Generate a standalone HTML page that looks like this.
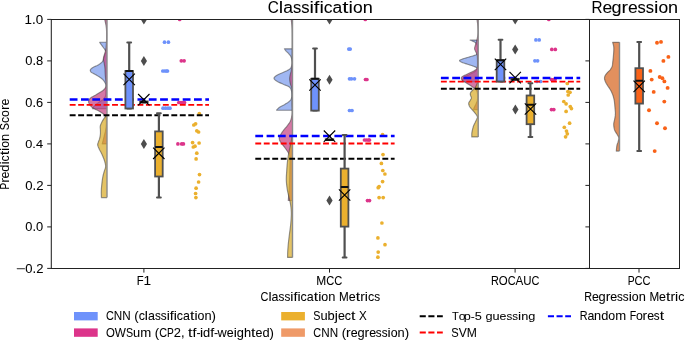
<!DOCTYPE html>
<html><head><meta charset="utf-8"><style>html,body{margin:0;padding:0;background:#fff;}body{width:685px;height:340px;overflow:hidden;font-family:"Liberation Sans",sans-serif;}svg{display:block;will-change:transform;}</style></head><body>
<svg width="685" height="340" viewBox="0 0 685 340" font-family="&quot;Liberation Sans&quot;, sans-serif" fill="#000000">
<style>text{stroke:#000;stroke-width:0.05px;}</style>
<rect width="685" height="340" fill="#fff"/>
<defs><clipPath id="ca"><rect x="51.5" y="19.4" width="538" height="249"/></clipPath><clipPath id="cb"><rect x="589.4" y="19.4" width="90" height="249"/></clipPath></defs>
<g clip-path="url(#ca)">
<path d="M107.00,42.20 L99.60,42.20 L99.79,42.49 L100.04,42.87 L100.35,43.33 L100.70,43.84 L101.09,44.41 L101.50,45.00 L101.98,45.66 L102.54,46.42 L103.14,47.22 L103.73,48.02 L104.26,48.76 L104.70,49.40 L105.06,49.90 L105.37,50.30 L105.64,50.64 L105.84,50.97 L105.96,51.34 L106.00,51.80 L105.92,52.35 L105.73,52.96 L105.46,53.61 L105.15,54.27 L104.85,54.94 L104.60,55.60 L104.40,56.25 L104.21,56.92 L104.03,57.59 L103.84,58.26 L103.64,58.90 L103.40,59.50 L103.15,60.07 L102.90,60.61 L102.63,61.12 L102.31,61.63 L101.95,62.12 L101.50,62.60 L100.96,63.08 L100.34,63.55 L99.66,64.01 L98.95,64.46 L98.22,64.89 L97.50,65.30 L96.76,65.68 L95.97,66.03 L95.16,66.37 L94.38,66.70 L93.65,67.04 L93.00,67.40 L92.42,67.78 L91.87,68.18 L91.37,68.58 L90.94,68.99 L90.61,69.40 L90.40,69.80 L90.31,70.21 L90.32,70.62 L90.43,71.04 L90.62,71.44 L90.88,71.83 L91.20,72.20 L91.59,72.53 L92.08,72.81 L92.63,73.09 L93.23,73.36 L93.86,73.66 L94.50,74.00 L95.16,74.38 L95.87,74.79 L96.61,75.22 L97.35,75.67 L98.09,76.13 L98.80,76.60 L99.50,77.07 L100.21,77.56 L100.92,78.05 L101.60,78.56 L102.23,79.07 L102.80,79.60 L103.31,80.15 L103.78,80.72 L104.20,81.30 L104.58,81.88 L104.91,82.45 L105.20,83.00 L105.44,83.50 L105.62,83.96 L105.76,84.40 L105.87,84.87 L105.94,85.39 L106.00,86.00 L106.03,86.72 L106.01,87.52 L105.97,88.38 L105.92,89.26 L105.86,90.14 L105.80,91.00 L105.77,91.85 L105.76,92.72 L105.75,93.59 L105.70,94.44 L105.60,95.25 L105.40,96.00 L105.11,96.69 L104.74,97.34 L104.31,97.95 L103.84,98.53 L103.33,99.07 L102.80,99.60 L102.24,100.09 L101.63,100.53 L100.99,100.94 L100.33,101.34 L99.66,101.76 L99.00,102.20 L98.33,102.67 L97.63,103.16 L96.92,103.65 L96.24,104.16 L95.59,104.67 L95.00,105.20 L94.46,105.78 L93.93,106.43 L93.45,107.09 L93.02,107.70 L92.67,108.23 L92.40,108.60 L107.00,108.60 Z" fill="#7798ec" fill-opacity="0.7"/>
<path d="M107.00,42.20 L99.60,42.20 L99.79,42.49 L100.04,42.87 L100.35,43.33 L100.70,43.84 L101.09,44.41 L101.50,45.00 L101.98,45.66 L102.54,46.42 L103.14,47.22 L103.73,48.02 L104.26,48.76 L104.70,49.40 L105.06,49.90 L105.37,50.30 L105.64,50.64 L105.84,50.97 L105.96,51.34 L106.00,51.80 L105.92,52.35 L105.73,52.96 L105.46,53.61 L105.15,54.27 L104.85,54.94 L104.60,55.60 L104.40,56.25 L104.21,56.92 L104.03,57.59 L103.84,58.26 L103.64,58.90 L103.40,59.50 L103.15,60.07 L102.90,60.61 L102.63,61.12 L102.31,61.63 L101.95,62.12 L101.50,62.60 L100.96,63.08 L100.34,63.55 L99.66,64.01 L98.95,64.46 L98.22,64.89 L97.50,65.30 L96.76,65.68 L95.97,66.03 L95.16,66.37 L94.38,66.70 L93.65,67.04 L93.00,67.40 L92.42,67.78 L91.87,68.18 L91.37,68.58 L90.94,68.99 L90.61,69.40 L90.40,69.80 L90.31,70.21 L90.32,70.62 L90.43,71.04 L90.62,71.44 L90.88,71.83 L91.20,72.20 L91.59,72.53 L92.08,72.81 L92.63,73.09 L93.23,73.36 L93.86,73.66 L94.50,74.00 L95.16,74.38 L95.87,74.79 L96.61,75.22 L97.35,75.67 L98.09,76.13 L98.80,76.60 L99.50,77.07 L100.21,77.56 L100.92,78.05 L101.60,78.56 L102.23,79.07 L102.80,79.60 L103.31,80.15 L103.78,80.72 L104.20,81.30 L104.58,81.88 L104.91,82.45 L105.20,83.00 L105.44,83.50 L105.62,83.96 L105.76,84.40 L105.87,84.87 L105.94,85.39 L106.00,86.00 L106.03,86.72 L106.01,87.52 L105.97,88.38 L105.92,89.26 L105.86,90.14 L105.80,91.00 L105.77,91.85 L105.76,92.72 L105.75,93.59 L105.70,94.44 L105.60,95.25 L105.40,96.00 L105.11,96.69 L104.74,97.34 L104.31,97.95 L103.84,98.53 L103.33,99.07 L102.80,99.60 L102.24,100.09 L101.63,100.53 L100.99,100.94 L100.33,101.34 L99.66,101.76 L99.00,102.20 L98.33,102.67 L97.63,103.16 L96.92,103.65 L96.24,104.16 L95.59,104.67 L95.00,105.20 L94.46,105.78 L93.93,106.43 L93.45,107.09 L93.02,107.70 L92.67,108.23 L92.40,108.60 L107.00,108.60" fill="none" stroke="#404040" stroke-opacity="0.55" stroke-width="1.15" stroke-linejoin="round"/>
<path d="M107.00,19.40 L104.70,19.40 L104.84,20.02 L105.03,20.87 L105.26,21.89 L105.50,22.97 L105.72,24.04 L105.90,25.00 L106.04,25.84 L106.16,26.64 L106.27,27.41 L106.36,28.21 L106.44,29.06 L106.50,30.00 L106.55,31.04 L106.59,32.15 L106.61,33.31 L106.61,34.52 L106.61,35.75 L106.60,37.00 L106.58,38.30 L106.55,39.67 L106.51,41.06 L106.46,42.44 L106.39,43.77 L106.30,45.00 L106.19,46.12 L106.07,47.17 L105.93,48.16 L105.77,49.11 L105.60,50.05 L105.40,51.00 L105.16,51.97 L104.87,52.96 L104.57,53.94 L104.27,54.87 L104.01,55.73 L103.80,56.50 L103.65,57.13 L103.53,57.65 L103.45,58.09 L103.40,58.52 L103.38,58.97 L103.40,59.50 L103.47,60.10 L103.58,60.74 L103.73,61.41 L103.90,62.09 L104.06,62.79 L104.20,63.50 L104.33,64.20 L104.46,64.91 L104.58,65.62 L104.70,66.37 L104.81,67.16 L104.90,68.00 L104.97,68.91 L105.02,69.89 L105.06,70.91 L105.10,71.94 L105.14,72.98 L105.20,74.00 L105.27,75.00 L105.36,76.01 L105.44,77.02 L105.53,78.03 L105.62,79.02 L105.70,80.00 L105.81,80.97 L105.95,81.94 L106.09,82.90 L106.19,83.84 L106.21,84.74 L106.10,85.60 L105.89,86.40 L105.62,87.15 L105.26,87.87 L104.80,88.57 L104.22,89.27 L103.50,90.00 L102.58,90.75 L101.46,91.52 L100.22,92.29 L98.94,93.06 L97.67,93.80 L96.50,94.50 L95.37,95.17 L94.21,95.80 L93.07,96.42 L92.00,97.02 L91.06,97.61 L90.30,98.20 L89.73,98.79 L89.30,99.37 L89.00,99.95 L88.80,100.51 L88.67,101.07 L88.60,101.60 L88.60,102.12 L88.70,102.63 L88.88,103.12 L89.10,103.60 L89.35,104.06 L89.60,104.50 L89.85,104.92 L90.13,105.32 L90.42,105.71 L90.75,106.08 L91.11,106.44 L91.50,106.80 L91.91,107.14 L92.34,107.46 L92.79,107.78 L93.30,108.09 L93.86,108.43 L94.50,108.80 L95.25,109.21 L96.10,109.64 L97.02,110.09 L97.95,110.55 L98.86,111.02 L99.70,111.50 L100.50,111.98 L101.29,112.46 L102.05,112.95 L102.77,113.45 L103.43,113.97 L104.00,114.50 L104.49,115.03 L104.90,115.54 L105.25,116.06 L105.54,116.63 L105.79,117.27 L106.00,118.00 L106.16,118.86 L106.26,119.81 L106.32,120.84 L106.34,121.91 L106.33,122.97 L106.30,124.00 L106.25,125.00 L106.17,126.00 L106.06,127.00 L105.92,128.00 L105.77,129.00 L105.60,130.00 L105.41,130.98 L105.21,131.93 L104.98,132.88 L104.74,133.86 L104.48,134.89 L104.20,136.00 L103.88,137.30 L103.50,138.79 L103.11,140.32 L102.74,141.78 L102.42,143.02 L102.20,143.90 L107.00,143.90 Z" fill="#c53d7f" fill-opacity="0.7"/>
<path d="M107.00,19.40 L104.70,19.40 L104.84,20.02 L105.03,20.87 L105.26,21.89 L105.50,22.97 L105.72,24.04 L105.90,25.00 L106.04,25.84 L106.16,26.64 L106.27,27.41 L106.36,28.21 L106.44,29.06 L106.50,30.00 L106.55,31.04 L106.59,32.15 L106.61,33.31 L106.61,34.52 L106.61,35.75 L106.60,37.00 L106.58,38.30 L106.55,39.67 L106.51,41.06 L106.46,42.44 L106.39,43.77 L106.30,45.00 L106.19,46.12 L106.07,47.17 L105.93,48.16 L105.77,49.11 L105.60,50.05 L105.40,51.00 L105.16,51.97 L104.87,52.96 L104.57,53.94 L104.27,54.87 L104.01,55.73 L103.80,56.50 L103.65,57.13 L103.53,57.65 L103.45,58.09 L103.40,58.52 L103.38,58.97 L103.40,59.50 L103.47,60.10 L103.58,60.74 L103.73,61.41 L103.90,62.09 L104.06,62.79 L104.20,63.50 L104.33,64.20 L104.46,64.91 L104.58,65.62 L104.70,66.37 L104.81,67.16 L104.90,68.00 L104.97,68.91 L105.02,69.89 L105.06,70.91 L105.10,71.94 L105.14,72.98 L105.20,74.00 L105.27,75.00 L105.36,76.01 L105.44,77.02 L105.53,78.03 L105.62,79.02 L105.70,80.00 L105.81,80.97 L105.95,81.94 L106.09,82.90 L106.19,83.84 L106.21,84.74 L106.10,85.60 L105.89,86.40 L105.62,87.15 L105.26,87.87 L104.80,88.57 L104.22,89.27 L103.50,90.00 L102.58,90.75 L101.46,91.52 L100.22,92.29 L98.94,93.06 L97.67,93.80 L96.50,94.50 L95.37,95.17 L94.21,95.80 L93.07,96.42 L92.00,97.02 L91.06,97.61 L90.30,98.20 L89.73,98.79 L89.30,99.37 L89.00,99.95 L88.80,100.51 L88.67,101.07 L88.60,101.60 L88.60,102.12 L88.70,102.63 L88.88,103.12 L89.10,103.60 L89.35,104.06 L89.60,104.50 L89.85,104.92 L90.13,105.32 L90.42,105.71 L90.75,106.08 L91.11,106.44 L91.50,106.80 L91.91,107.14 L92.34,107.46 L92.79,107.78 L93.30,108.09 L93.86,108.43 L94.50,108.80 L95.25,109.21 L96.10,109.64 L97.02,110.09 L97.95,110.55 L98.86,111.02 L99.70,111.50 L100.50,111.98 L101.29,112.46 L102.05,112.95 L102.77,113.45 L103.43,113.97 L104.00,114.50 L104.49,115.03 L104.90,115.54 L105.25,116.06 L105.54,116.63 L105.79,117.27 L106.00,118.00 L106.16,118.86 L106.26,119.81 L106.32,120.84 L106.34,121.91 L106.33,122.97 L106.30,124.00 L106.25,125.00 L106.17,126.00 L106.06,127.00 L105.92,128.00 L105.77,129.00 L105.60,130.00 L105.41,130.98 L105.21,131.93 L104.98,132.88 L104.74,133.86 L104.48,134.89 L104.20,136.00 L103.88,137.30 L103.50,138.79 L103.11,140.32 L102.74,141.78 L102.42,143.02 L102.20,143.90 L107.00,143.90" fill="none" stroke="#404040" stroke-opacity="0.55" stroke-width="1.15" stroke-linejoin="round"/>
<path d="M107.00,114.90 L106.60,114.90 L106.31,115.30 L105.90,115.84 L105.42,116.49 L104.92,117.19 L104.43,117.88 L104.00,118.50 L103.63,119.06 L103.28,119.59 L102.94,120.11 L102.62,120.64 L102.31,121.20 L102.00,121.80 L101.68,122.45 L101.34,123.14 L101.02,123.86 L100.72,124.58 L100.48,125.30 L100.30,126.00 L100.21,126.68 L100.20,127.35 L100.24,128.01 L100.31,128.67 L100.37,129.34 L100.40,130.00 L100.42,130.66 L100.44,131.31 L100.46,131.97 L100.46,132.63 L100.45,133.30 L100.40,134.00 L100.32,134.73 L100.21,135.48 L100.09,136.25 L99.94,137.02 L99.78,137.77 L99.60,138.50 L99.39,139.21 L99.14,139.93 L98.88,140.62 L98.62,141.30 L98.39,141.93 L98.20,142.50 L98.04,142.99 L97.89,143.39 L97.77,143.75 L97.69,144.11 L97.66,144.51 L97.70,145.00 L97.83,145.58 L98.03,146.22 L98.29,146.91 L98.58,147.61 L98.89,148.32 L99.20,149.00 L99.51,149.66 L99.85,150.30 L100.21,150.94 L100.57,151.59 L100.94,152.28 L101.30,153.00 L101.67,153.78 L102.05,154.61 L102.44,155.47 L102.81,156.33 L103.17,157.18 L103.50,158.00 L103.80,158.78 L104.09,159.54 L104.35,160.29 L104.59,161.03 L104.81,161.77 L105.00,162.50 L105.18,163.22 L105.34,163.93 L105.48,164.64 L105.58,165.34 L105.63,166.06 L105.60,166.80 L105.48,167.55 L105.28,168.31 L105.02,169.08 L104.74,169.86 L104.46,170.67 L104.20,171.50 L103.96,172.35 L103.72,173.20 L103.48,174.08 L103.24,175.00 L103.01,175.96 L102.80,177.00 L102.60,178.13 L102.42,179.36 L102.24,180.63 L102.08,181.92 L101.93,183.19 L101.80,184.40 L101.68,185.55 L101.57,186.66 L101.48,187.75 L101.40,188.83 L101.34,189.91 L101.30,191.00 L101.28,192.18 L101.29,193.44 L101.32,194.71 L101.35,195.89 L101.38,196.88 L101.40,197.60 L107.00,197.60 Z" fill="#d8a924" fill-opacity="0.7"/>
<path d="M107.00,114.90 L106.60,114.90 L106.31,115.30 L105.90,115.84 L105.42,116.49 L104.92,117.19 L104.43,117.88 L104.00,118.50 L103.63,119.06 L103.28,119.59 L102.94,120.11 L102.62,120.64 L102.31,121.20 L102.00,121.80 L101.68,122.45 L101.34,123.14 L101.02,123.86 L100.72,124.58 L100.48,125.30 L100.30,126.00 L100.21,126.68 L100.20,127.35 L100.24,128.01 L100.31,128.67 L100.37,129.34 L100.40,130.00 L100.42,130.66 L100.44,131.31 L100.46,131.97 L100.46,132.63 L100.45,133.30 L100.40,134.00 L100.32,134.73 L100.21,135.48 L100.09,136.25 L99.94,137.02 L99.78,137.77 L99.60,138.50 L99.39,139.21 L99.14,139.93 L98.88,140.62 L98.62,141.30 L98.39,141.93 L98.20,142.50 L98.04,142.99 L97.89,143.39 L97.77,143.75 L97.69,144.11 L97.66,144.51 L97.70,145.00 L97.83,145.58 L98.03,146.22 L98.29,146.91 L98.58,147.61 L98.89,148.32 L99.20,149.00 L99.51,149.66 L99.85,150.30 L100.21,150.94 L100.57,151.59 L100.94,152.28 L101.30,153.00 L101.67,153.78 L102.05,154.61 L102.44,155.47 L102.81,156.33 L103.17,157.18 L103.50,158.00 L103.80,158.78 L104.09,159.54 L104.35,160.29 L104.59,161.03 L104.81,161.77 L105.00,162.50 L105.18,163.22 L105.34,163.93 L105.48,164.64 L105.58,165.34 L105.63,166.06 L105.60,166.80 L105.48,167.55 L105.28,168.31 L105.02,169.08 L104.74,169.86 L104.46,170.67 L104.20,171.50 L103.96,172.35 L103.72,173.20 L103.48,174.08 L103.24,175.00 L103.01,175.96 L102.80,177.00 L102.60,178.13 L102.42,179.36 L102.24,180.63 L102.08,181.92 L101.93,183.19 L101.80,184.40 L101.68,185.55 L101.57,186.66 L101.48,187.75 L101.40,188.83 L101.34,189.91 L101.30,191.00 L101.28,192.18 L101.29,193.44 L101.32,194.71 L101.35,195.89 L101.38,196.88 L101.40,197.60 L107.00,197.60" fill="none" stroke="#404040" stroke-opacity="0.55" stroke-width="1.15" stroke-linejoin="round"/>
<line x1="107.0" y1="19.4" x2="107.0" y2="197.60" stroke="#8a8a8a" stroke-width="1.4"/>
<path d="M292.50,48.80 L284.40,48.80 L284.57,49.04 L284.79,49.37 L285.06,49.77 L285.36,50.19 L285.68,50.61 L286.00,51.00 L286.33,51.34 L286.68,51.67 L287.04,51.99 L287.42,52.33 L287.81,52.69 L288.20,53.10 L288.61,53.55 L289.06,54.02 L289.51,54.53 L289.95,55.06 L290.36,55.61 L290.70,56.20 L290.99,56.82 L291.24,57.47 L291.46,58.15 L291.64,58.85 L291.78,59.57 L291.90,60.30 L291.99,61.06 L292.07,61.85 L292.11,62.66 L292.10,63.46 L292.04,64.25 L291.90,65.00 L291.72,65.72 L291.51,66.41 L291.24,67.09 L290.89,67.75 L290.42,68.39 L289.80,69.00 L289.00,69.58 L288.02,70.13 L286.93,70.66 L285.77,71.18 L284.61,71.69 L283.50,72.20 L282.39,72.71 L281.22,73.21 L280.04,73.70 L278.91,74.19 L277.88,74.69 L277.00,75.20 L276.22,75.72 L275.50,76.26 L274.88,76.80 L274.40,77.34 L274.09,77.88 L274.00,78.40 L274.17,78.91 L274.57,79.42 L275.14,79.92 L275.84,80.41 L276.61,80.91 L277.40,81.40 L278.24,81.89 L279.19,82.39 L280.21,82.88 L281.26,83.37 L282.30,83.84 L283.30,84.30 L284.30,84.73 L285.34,85.13 L286.38,85.52 L287.36,85.91 L288.25,86.34 L289.00,86.80 L289.60,87.28 L290.09,87.76 L290.48,88.27 L290.79,88.83 L291.06,89.46 L291.30,90.20 L291.51,91.10 L291.68,92.14 L291.79,93.26 L291.86,94.39 L291.86,95.46 L291.80,96.40 L291.69,97.21 L291.54,97.94 L291.34,98.61 L291.06,99.25 L290.68,99.87 L290.20,100.50 L289.58,101.13 L288.84,101.76 L288.01,102.36 L287.11,102.96 L286.20,103.53 L285.30,104.10 L284.37,104.65 L283.36,105.17 L282.34,105.69 L281.34,106.19 L280.41,106.69 L279.60,107.20 L278.90,107.74 L278.26,108.32 L277.69,108.89 L277.21,109.43 L276.81,109.87 L276.50,110.20 L292.50,110.20 Z" fill="#7798ec" fill-opacity="0.7"/>
<path d="M292.50,48.80 L284.40,48.80 L284.57,49.04 L284.79,49.37 L285.06,49.77 L285.36,50.19 L285.68,50.61 L286.00,51.00 L286.33,51.34 L286.68,51.67 L287.04,51.99 L287.42,52.33 L287.81,52.69 L288.20,53.10 L288.61,53.55 L289.06,54.02 L289.51,54.53 L289.95,55.06 L290.36,55.61 L290.70,56.20 L290.99,56.82 L291.24,57.47 L291.46,58.15 L291.64,58.85 L291.78,59.57 L291.90,60.30 L291.99,61.06 L292.07,61.85 L292.11,62.66 L292.10,63.46 L292.04,64.25 L291.90,65.00 L291.72,65.72 L291.51,66.41 L291.24,67.09 L290.89,67.75 L290.42,68.39 L289.80,69.00 L289.00,69.58 L288.02,70.13 L286.93,70.66 L285.77,71.18 L284.61,71.69 L283.50,72.20 L282.39,72.71 L281.22,73.21 L280.04,73.70 L278.91,74.19 L277.88,74.69 L277.00,75.20 L276.22,75.72 L275.50,76.26 L274.88,76.80 L274.40,77.34 L274.09,77.88 L274.00,78.40 L274.17,78.91 L274.57,79.42 L275.14,79.92 L275.84,80.41 L276.61,80.91 L277.40,81.40 L278.24,81.89 L279.19,82.39 L280.21,82.88 L281.26,83.37 L282.30,83.84 L283.30,84.30 L284.30,84.73 L285.34,85.13 L286.38,85.52 L287.36,85.91 L288.25,86.34 L289.00,86.80 L289.60,87.28 L290.09,87.76 L290.48,88.27 L290.79,88.83 L291.06,89.46 L291.30,90.20 L291.51,91.10 L291.68,92.14 L291.79,93.26 L291.86,94.39 L291.86,95.46 L291.80,96.40 L291.69,97.21 L291.54,97.94 L291.34,98.61 L291.06,99.25 L290.68,99.87 L290.20,100.50 L289.58,101.13 L288.84,101.76 L288.01,102.36 L287.11,102.96 L286.20,103.53 L285.30,104.10 L284.37,104.65 L283.36,105.17 L282.34,105.69 L281.34,106.19 L280.41,106.69 L279.60,107.20 L278.90,107.74 L278.26,108.32 L277.69,108.89 L277.21,109.43 L276.81,109.87 L276.50,110.20 L292.50,110.20" fill="none" stroke="#404040" stroke-opacity="0.55" stroke-width="1.15" stroke-linejoin="round"/>
<path d="M292.50,19.40 L291.20,19.40 L291.28,20.16 L291.40,21.17 L291.54,22.39 L291.68,23.79 L291.80,25.33 L291.90,27.00 L291.97,28.80 L292.01,30.75 L292.05,32.85 L292.07,35.10 L292.09,37.48 L292.10,40.00 L292.10,42.80 L292.10,45.92 L292.08,49.18 L292.06,52.39 L292.03,55.39 L292.00,58.00 L291.98,60.16 L291.98,62.01 L291.97,63.64 L291.93,65.15 L291.85,66.64 L291.70,68.20 L291.43,69.85 L291.06,71.50 L290.64,73.14 L290.23,74.72 L289.90,76.22 L289.70,77.60 L289.65,78.85 L289.70,79.99 L289.83,81.05 L290.01,82.05 L290.21,83.03 L290.40,84.00 L290.62,84.85 L290.90,85.53 L291.19,86.19 L291.48,86.96 L291.73,87.98 L291.90,89.40 L291.99,91.35 L292.01,93.76 L291.99,96.41 L291.95,99.13 L291.91,101.73 L291.90,104.00 L291.93,105.97 L291.98,107.80 L292.04,109.51 L292.07,111.10 L292.07,112.59 L292.00,114.00 L291.87,115.30 L291.71,116.48 L291.50,117.56 L291.25,118.57 L290.95,119.54 L290.60,120.50 L290.20,121.41 L289.74,122.26 L289.24,123.06 L288.70,123.85 L288.12,124.66 L287.50,125.50 L286.82,126.39 L286.06,127.30 L285.26,128.22 L284.46,129.15 L283.69,130.08 L283.00,131.00 L282.36,131.94 L281.73,132.91 L281.14,133.88 L280.60,134.81 L280.15,135.70 L279.80,136.50 L279.55,137.20 L279.39,137.80 L279.30,138.36 L279.29,138.89 L279.36,139.42 L279.50,140.00 L279.72,140.59 L280.03,141.17 L280.41,141.75 L280.85,142.37 L281.35,143.04 L281.90,143.80 L282.54,144.68 L283.28,145.67 L284.08,146.71 L284.89,147.77 L285.64,148.78 L286.30,149.70 L286.87,150.52 L287.39,151.28 L287.87,151.99 L288.30,152.69 L288.67,153.38 L289.00,154.10 L289.27,154.75 L289.47,155.30 L289.62,155.86 L289.74,156.51 L289.83,157.36 L289.90,158.50 L289.94,159.97 L289.95,161.68 L289.93,163.59 L289.89,165.64 L289.85,167.80 L289.80,170.00 L289.75,172.37 L289.70,174.96 L289.63,177.66 L289.56,180.31 L289.48,182.81 L289.40,185.00 L289.31,186.88 L289.21,188.54 L289.11,190.03 L289.00,191.41 L288.90,192.71 L288.80,194.00 L288.71,195.30 L288.61,196.59 L288.51,197.81 L288.43,198.91 L288.35,199.82 L288.30,200.50 L292.50,200.50 Z" fill="#c53d7f" fill-opacity="0.7"/>
<path d="M292.50,19.40 L291.20,19.40 L291.28,20.16 L291.40,21.17 L291.54,22.39 L291.68,23.79 L291.80,25.33 L291.90,27.00 L291.97,28.80 L292.01,30.75 L292.05,32.85 L292.07,35.10 L292.09,37.48 L292.10,40.00 L292.10,42.80 L292.10,45.92 L292.08,49.18 L292.06,52.39 L292.03,55.39 L292.00,58.00 L291.98,60.16 L291.98,62.01 L291.97,63.64 L291.93,65.15 L291.85,66.64 L291.70,68.20 L291.43,69.85 L291.06,71.50 L290.64,73.14 L290.23,74.72 L289.90,76.22 L289.70,77.60 L289.65,78.85 L289.70,79.99 L289.83,81.05 L290.01,82.05 L290.21,83.03 L290.40,84.00 L290.62,84.85 L290.90,85.53 L291.19,86.19 L291.48,86.96 L291.73,87.98 L291.90,89.40 L291.99,91.35 L292.01,93.76 L291.99,96.41 L291.95,99.13 L291.91,101.73 L291.90,104.00 L291.93,105.97 L291.98,107.80 L292.04,109.51 L292.07,111.10 L292.07,112.59 L292.00,114.00 L291.87,115.30 L291.71,116.48 L291.50,117.56 L291.25,118.57 L290.95,119.54 L290.60,120.50 L290.20,121.41 L289.74,122.26 L289.24,123.06 L288.70,123.85 L288.12,124.66 L287.50,125.50 L286.82,126.39 L286.06,127.30 L285.26,128.22 L284.46,129.15 L283.69,130.08 L283.00,131.00 L282.36,131.94 L281.73,132.91 L281.14,133.88 L280.60,134.81 L280.15,135.70 L279.80,136.50 L279.55,137.20 L279.39,137.80 L279.30,138.36 L279.29,138.89 L279.36,139.42 L279.50,140.00 L279.72,140.59 L280.03,141.17 L280.41,141.75 L280.85,142.37 L281.35,143.04 L281.90,143.80 L282.54,144.68 L283.28,145.67 L284.08,146.71 L284.89,147.77 L285.64,148.78 L286.30,149.70 L286.87,150.52 L287.39,151.28 L287.87,151.99 L288.30,152.69 L288.67,153.38 L289.00,154.10 L289.27,154.75 L289.47,155.30 L289.62,155.86 L289.74,156.51 L289.83,157.36 L289.90,158.50 L289.94,159.97 L289.95,161.68 L289.93,163.59 L289.89,165.64 L289.85,167.80 L289.80,170.00 L289.75,172.37 L289.70,174.96 L289.63,177.66 L289.56,180.31 L289.48,182.81 L289.40,185.00 L289.31,186.88 L289.21,188.54 L289.11,190.03 L289.00,191.41 L288.90,192.71 L288.80,194.00 L288.71,195.30 L288.61,196.59 L288.51,197.81 L288.43,198.91 L288.35,199.82 L288.30,200.50 L292.50,200.50" fill="none" stroke="#404040" stroke-opacity="0.55" stroke-width="1.15" stroke-linejoin="round"/>
<path d="M292.50,135.00 L292.20,135.00 L292.11,135.64 L291.99,136.52 L291.84,137.56 L291.68,138.70 L291.50,139.87 L291.30,141.00 L291.08,142.11 L290.84,143.26 L290.58,144.44 L290.31,145.63 L290.05,146.82 L289.80,148.00 L289.56,149.16 L289.31,150.30 L289.07,151.44 L288.84,152.59 L288.61,153.78 L288.40,155.00 L288.19,156.28 L287.99,157.59 L287.80,158.94 L287.62,160.30 L287.45,161.66 L287.30,163.00 L287.17,164.32 L287.06,165.63 L286.96,166.94 L286.87,168.26 L286.78,169.61 L286.70,171.00 L286.61,172.44 L286.50,173.93 L286.41,175.44 L286.33,176.96 L286.29,178.49 L286.30,180.00 L286.37,181.52 L286.48,183.06 L286.63,184.59 L286.80,186.11 L286.99,187.59 L287.20,189.00 L287.43,190.35 L287.69,191.65 L287.96,192.91 L288.25,194.13 L288.53,195.33 L288.80,196.50 L289.06,197.65 L289.33,198.76 L289.60,199.84 L289.86,200.91 L290.09,201.96 L290.30,203.00 L290.48,204.03 L290.64,205.04 L290.78,206.03 L290.90,207.02 L291.01,208.01 L291.10,209.00 L291.18,209.95 L291.24,210.85 L291.29,211.75 L291.32,212.70 L291.33,213.77 L291.30,215.00 L291.24,216.42 L291.16,218.00 L291.05,219.69 L290.92,221.44 L290.77,223.23 L290.60,225.00 L290.40,226.80 L290.17,228.67 L289.92,230.56 L289.66,232.44 L289.42,234.27 L289.20,236.00 L289.00,237.64 L288.82,239.22 L288.64,240.75 L288.48,242.22 L288.33,243.64 L288.20,245.00 L288.08,246.30 L287.98,247.54 L287.89,248.72 L287.82,249.86 L287.75,250.95 L287.70,252.00 L287.66,253.06 L287.63,254.12 L287.62,255.14 L287.61,256.06 L287.61,256.83 L287.60,257.40 L292.50,257.40 Z" fill="#d8a924" fill-opacity="0.7"/>
<path d="M292.50,135.00 L292.20,135.00 L292.11,135.64 L291.99,136.52 L291.84,137.56 L291.68,138.70 L291.50,139.87 L291.30,141.00 L291.08,142.11 L290.84,143.26 L290.58,144.44 L290.31,145.63 L290.05,146.82 L289.80,148.00 L289.56,149.16 L289.31,150.30 L289.07,151.44 L288.84,152.59 L288.61,153.78 L288.40,155.00 L288.19,156.28 L287.99,157.59 L287.80,158.94 L287.62,160.30 L287.45,161.66 L287.30,163.00 L287.17,164.32 L287.06,165.63 L286.96,166.94 L286.87,168.26 L286.78,169.61 L286.70,171.00 L286.61,172.44 L286.50,173.93 L286.41,175.44 L286.33,176.96 L286.29,178.49 L286.30,180.00 L286.37,181.52 L286.48,183.06 L286.63,184.59 L286.80,186.11 L286.99,187.59 L287.20,189.00 L287.43,190.35 L287.69,191.65 L287.96,192.91 L288.25,194.13 L288.53,195.33 L288.80,196.50 L289.06,197.65 L289.33,198.76 L289.60,199.84 L289.86,200.91 L290.09,201.96 L290.30,203.00 L290.48,204.03 L290.64,205.04 L290.78,206.03 L290.90,207.02 L291.01,208.01 L291.10,209.00 L291.18,209.95 L291.24,210.85 L291.29,211.75 L291.32,212.70 L291.33,213.77 L291.30,215.00 L291.24,216.42 L291.16,218.00 L291.05,219.69 L290.92,221.44 L290.77,223.23 L290.60,225.00 L290.40,226.80 L290.17,228.67 L289.92,230.56 L289.66,232.44 L289.42,234.27 L289.20,236.00 L289.00,237.64 L288.82,239.22 L288.64,240.75 L288.48,242.22 L288.33,243.64 L288.20,245.00 L288.08,246.30 L287.98,247.54 L287.89,248.72 L287.82,249.86 L287.75,250.95 L287.70,252.00 L287.66,253.06 L287.63,254.12 L287.62,255.14 L287.61,256.06 L287.61,256.83 L287.60,257.40 L292.50,257.40" fill="none" stroke="#404040" stroke-opacity="0.55" stroke-width="1.15" stroke-linejoin="round"/>
<line x1="292.5" y1="19.4" x2="292.5" y2="257.40" stroke="#8a8a8a" stroke-width="1.4"/>
<path d="M478.20,40.10 L470.10,40.10 L470.54,40.28 L471.17,40.53 L471.91,40.83 L472.67,41.16 L473.40,41.49 L474.00,41.80 L474.49,42.09 L474.94,42.37 L475.34,42.65 L475.70,42.96 L476.02,43.30 L476.30,43.70 L476.54,44.16 L476.73,44.65 L476.89,45.19 L477.01,45.76 L477.11,46.36 L477.20,47.00 L477.27,47.70 L477.31,48.49 L477.34,49.30 L477.34,50.10 L477.33,50.85 L477.30,51.50 L477.27,52.05 L477.24,52.52 L477.20,52.94 L477.12,53.32 L476.99,53.67 L476.80,54.00 L476.56,54.29 L476.30,54.53 L475.99,54.74 L475.61,54.94 L475.12,55.16 L474.50,55.40 L473.72,55.67 L472.79,55.96 L471.76,56.26 L470.67,56.57 L469.57,56.88 L468.50,57.20 L467.40,57.53 L466.22,57.87 L465.03,58.23 L463.89,58.57 L462.86,58.90 L462.00,59.20 L461.29,59.46 L460.69,59.70 L460.19,59.91 L459.81,60.13 L459.58,60.35 L459.50,60.60 L459.59,60.88 L459.85,61.17 L460.25,61.48 L460.76,61.79 L461.35,62.10 L462.00,62.40 L462.74,62.70 L463.59,62.99 L464.53,63.29 L465.52,63.59 L466.52,63.89 L467.50,64.20 L468.50,64.52 L469.54,64.84 L470.61,65.18 L471.64,65.51 L472.62,65.85 L473.50,66.20 L474.33,66.54 L475.16,66.89 L475.92,67.23 L476.57,67.59 L477.05,67.98 L477.30,68.40 L477.31,68.87 L477.10,69.37 L476.73,69.90 L476.23,70.44 L475.64,70.98 L475.00,71.50 L474.26,72.01 L473.39,72.53 L472.42,73.04 L471.41,73.54 L470.42,74.03 L469.50,74.50 L468.60,74.95 L467.69,75.37 L466.78,75.78 L465.93,76.19 L465.15,76.59 L464.50,77.00 L463.97,77.42 L463.53,77.85 L463.17,78.27 L462.89,78.70 L462.67,79.11 L462.50,79.50 L462.42,79.90 L462.44,80.31 L462.52,80.71 L462.64,81.07 L462.74,81.38 L462.80,81.60 L478.20,81.60 Z" fill="#7798ec" fill-opacity="0.7"/>
<path d="M478.20,40.10 L470.10,40.10 L470.54,40.28 L471.17,40.53 L471.91,40.83 L472.67,41.16 L473.40,41.49 L474.00,41.80 L474.49,42.09 L474.94,42.37 L475.34,42.65 L475.70,42.96 L476.02,43.30 L476.30,43.70 L476.54,44.16 L476.73,44.65 L476.89,45.19 L477.01,45.76 L477.11,46.36 L477.20,47.00 L477.27,47.70 L477.31,48.49 L477.34,49.30 L477.34,50.10 L477.33,50.85 L477.30,51.50 L477.27,52.05 L477.24,52.52 L477.20,52.94 L477.12,53.32 L476.99,53.67 L476.80,54.00 L476.56,54.29 L476.30,54.53 L475.99,54.74 L475.61,54.94 L475.12,55.16 L474.50,55.40 L473.72,55.67 L472.79,55.96 L471.76,56.26 L470.67,56.57 L469.57,56.88 L468.50,57.20 L467.40,57.53 L466.22,57.87 L465.03,58.23 L463.89,58.57 L462.86,58.90 L462.00,59.20 L461.29,59.46 L460.69,59.70 L460.19,59.91 L459.81,60.13 L459.58,60.35 L459.50,60.60 L459.59,60.88 L459.85,61.17 L460.25,61.48 L460.76,61.79 L461.35,62.10 L462.00,62.40 L462.74,62.70 L463.59,62.99 L464.53,63.29 L465.52,63.59 L466.52,63.89 L467.50,64.20 L468.50,64.52 L469.54,64.84 L470.61,65.18 L471.64,65.51 L472.62,65.85 L473.50,66.20 L474.33,66.54 L475.16,66.89 L475.92,67.23 L476.57,67.59 L477.05,67.98 L477.30,68.40 L477.31,68.87 L477.10,69.37 L476.73,69.90 L476.23,70.44 L475.64,70.98 L475.00,71.50 L474.26,72.01 L473.39,72.53 L472.42,73.04 L471.41,73.54 L470.42,74.03 L469.50,74.50 L468.60,74.95 L467.69,75.37 L466.78,75.78 L465.93,76.19 L465.15,76.59 L464.50,77.00 L463.97,77.42 L463.53,77.85 L463.17,78.27 L462.89,78.70 L462.67,79.11 L462.50,79.50 L462.42,79.90 L462.44,80.31 L462.52,80.71 L462.64,81.07 L462.74,81.38 L462.80,81.60 L478.20,81.60" fill="none" stroke="#404040" stroke-opacity="0.55" stroke-width="1.15" stroke-linejoin="round"/>
<path d="M478.20,19.40 L477.00,19.40 L477.10,20.10 L477.23,21.06 L477.39,22.20 L477.56,23.45 L477.70,24.74 L477.80,26.00 L477.87,27.28 L477.92,28.66 L477.96,30.07 L477.97,31.47 L477.95,32.80 L477.90,34.00 L477.81,35.07 L477.69,36.04 L477.54,36.94 L477.37,37.80 L477.19,38.64 L477.00,39.50 L476.79,40.37 L476.56,41.24 L476.31,42.09 L476.06,42.92 L475.82,43.72 L475.60,44.50 L475.38,45.24 L475.15,45.96 L474.93,46.65 L474.75,47.32 L474.63,47.97 L474.60,48.60 L474.68,49.21 L474.86,49.78 L475.11,50.34 L475.38,50.89 L475.66,51.44 L475.90,52.00 L476.13,52.55 L476.37,53.09 L476.61,53.62 L476.84,54.18 L477.04,54.80 L477.20,55.50 L477.31,56.29 L477.40,57.15 L477.45,58.06 L477.48,59.02 L477.50,60.00 L477.50,61.00 L477.51,62.07 L477.53,63.22 L477.54,64.41 L477.50,65.56 L477.40,66.61 L477.20,67.50 L476.93,68.20 L476.60,68.76 L476.21,69.22 L475.73,69.63 L475.17,70.04 L474.50,70.50 L473.69,71.00 L472.73,71.51 L471.68,72.02 L470.59,72.52 L469.51,73.02 L468.50,73.50 L467.51,73.98 L466.49,74.46 L465.48,74.93 L464.53,75.38 L463.69,75.81 L463.00,76.20 L462.46,76.54 L462.04,76.84 L461.73,77.11 L461.51,77.38 L461.37,77.67 L461.30,78.00 L461.30,78.37 L461.37,78.77 L461.52,79.19 L461.76,79.63 L462.09,80.06 L462.50,80.50 L463.03,80.93 L463.69,81.37 L464.43,81.82 L465.22,82.27 L466.02,82.73 L466.80,83.20 L467.58,83.69 L468.40,84.20 L469.23,84.72 L470.04,85.23 L470.81,85.73 L471.50,86.20 L472.11,86.63 L472.65,87.04 L473.15,87.44 L473.61,87.82 L474.06,88.21 L474.50,88.60 L474.94,88.98 L475.37,89.34 L475.79,89.70 L476.17,90.08 L476.51,90.51 L476.80,91.00 L477.03,91.56 L477.21,92.18 L477.36,92.84 L477.46,93.53 L477.54,94.26 L477.60,95.00 L477.64,95.79 L477.66,96.63 L477.64,97.50 L477.60,98.37 L477.52,99.21 L477.40,100.00 L477.23,100.73 L477.00,101.43 L476.74,102.09 L476.46,102.74 L476.18,103.37 L475.90,104.00 L475.62,104.63 L475.31,105.26 L475.01,105.87 L474.71,106.46 L474.43,107.00 L474.20,107.50 L474.01,107.96 L473.84,108.38 L473.69,108.77 L473.57,109.11 L473.48,109.39 L473.40,109.60 L478.20,109.60 Z" fill="#c53d7f" fill-opacity="0.7"/>
<path d="M478.20,19.40 L477.00,19.40 L477.10,20.10 L477.23,21.06 L477.39,22.20 L477.56,23.45 L477.70,24.74 L477.80,26.00 L477.87,27.28 L477.92,28.66 L477.96,30.07 L477.97,31.47 L477.95,32.80 L477.90,34.00 L477.81,35.07 L477.69,36.04 L477.54,36.94 L477.37,37.80 L477.19,38.64 L477.00,39.50 L476.79,40.37 L476.56,41.24 L476.31,42.09 L476.06,42.92 L475.82,43.72 L475.60,44.50 L475.38,45.24 L475.15,45.96 L474.93,46.65 L474.75,47.32 L474.63,47.97 L474.60,48.60 L474.68,49.21 L474.86,49.78 L475.11,50.34 L475.38,50.89 L475.66,51.44 L475.90,52.00 L476.13,52.55 L476.37,53.09 L476.61,53.62 L476.84,54.18 L477.04,54.80 L477.20,55.50 L477.31,56.29 L477.40,57.15 L477.45,58.06 L477.48,59.02 L477.50,60.00 L477.50,61.00 L477.51,62.07 L477.53,63.22 L477.54,64.41 L477.50,65.56 L477.40,66.61 L477.20,67.50 L476.93,68.20 L476.60,68.76 L476.21,69.22 L475.73,69.63 L475.17,70.04 L474.50,70.50 L473.69,71.00 L472.73,71.51 L471.68,72.02 L470.59,72.52 L469.51,73.02 L468.50,73.50 L467.51,73.98 L466.49,74.46 L465.48,74.93 L464.53,75.38 L463.69,75.81 L463.00,76.20 L462.46,76.54 L462.04,76.84 L461.73,77.11 L461.51,77.38 L461.37,77.67 L461.30,78.00 L461.30,78.37 L461.37,78.77 L461.52,79.19 L461.76,79.63 L462.09,80.06 L462.50,80.50 L463.03,80.93 L463.69,81.37 L464.43,81.82 L465.22,82.27 L466.02,82.73 L466.80,83.20 L467.58,83.69 L468.40,84.20 L469.23,84.72 L470.04,85.23 L470.81,85.73 L471.50,86.20 L472.11,86.63 L472.65,87.04 L473.15,87.44 L473.61,87.82 L474.06,88.21 L474.50,88.60 L474.94,88.98 L475.37,89.34 L475.79,89.70 L476.17,90.08 L476.51,90.51 L476.80,91.00 L477.03,91.56 L477.21,92.18 L477.36,92.84 L477.46,93.53 L477.54,94.26 L477.60,95.00 L477.64,95.79 L477.66,96.63 L477.64,97.50 L477.60,98.37 L477.52,99.21 L477.40,100.00 L477.23,100.73 L477.00,101.43 L476.74,102.09 L476.46,102.74 L476.18,103.37 L475.90,104.00 L475.62,104.63 L475.31,105.26 L475.01,105.87 L474.71,106.46 L474.43,107.00 L474.20,107.50 L474.01,107.96 L473.84,108.38 L473.69,108.77 L473.57,109.11 L473.48,109.39 L473.40,109.60 L478.20,109.60" fill="none" stroke="#404040" stroke-opacity="0.55" stroke-width="1.15" stroke-linejoin="round"/>
<path d="M478.20,83.30 L477.20,83.30 L477.01,83.74 L476.76,84.36 L476.45,85.09 L476.11,85.85 L475.76,86.58 L475.40,87.20 L475.03,87.71 L474.64,88.16 L474.24,88.57 L473.82,88.97 L473.41,89.37 L473.00,89.80 L472.57,90.26 L472.12,90.73 L471.66,91.21 L471.24,91.69 L470.87,92.15 L470.60,92.60 L470.43,93.02 L470.33,93.41 L470.29,93.80 L470.30,94.19 L470.34,94.58 L470.40,95.00 L470.52,95.45 L470.73,95.91 L470.96,96.39 L471.19,96.87 L471.35,97.34 L471.40,97.80 L471.33,98.24 L471.17,98.67 L470.96,99.10 L470.70,99.53 L470.44,99.96 L470.20,100.40 L469.94,100.85 L469.63,101.30 L469.32,101.76 L469.03,102.22 L468.81,102.70 L468.70,103.20 L468.69,103.72 L468.74,104.25 L468.87,104.79 L469.06,105.35 L469.30,105.92 L469.60,106.50 L469.98,107.09 L470.44,107.70 L470.96,108.32 L471.51,108.94 L472.06,109.57 L472.60,110.20 L473.14,110.83 L473.71,111.48 L474.29,112.13 L474.84,112.77 L475.36,113.39 L475.80,114.00 L476.20,114.57 L476.58,115.10 L476.91,115.62 L477.18,116.15 L477.35,116.70 L477.40,117.30 L477.30,117.94 L477.06,118.62 L476.73,119.32 L476.35,120.04 L475.96,120.77 L475.60,121.50 L475.26,122.23 L474.89,122.98 L474.51,123.73 L474.14,124.49 L473.80,125.25 L473.50,126.00 L473.24,126.77 L473.01,127.56 L472.80,128.34 L472.61,129.11 L472.45,129.84 L472.30,130.50 L472.17,131.08 L472.06,131.60 L471.98,132.07 L471.90,132.53 L471.85,132.99 L471.80,133.50 L471.77,134.08 L471.76,134.73 L471.77,135.39 L471.78,136.00 L471.79,136.53 L471.80,136.90 L478.20,136.90 Z" fill="#d8a924" fill-opacity="0.7"/>
<path d="M478.20,83.30 L477.20,83.30 L477.01,83.74 L476.76,84.36 L476.45,85.09 L476.11,85.85 L475.76,86.58 L475.40,87.20 L475.03,87.71 L474.64,88.16 L474.24,88.57 L473.82,88.97 L473.41,89.37 L473.00,89.80 L472.57,90.26 L472.12,90.73 L471.66,91.21 L471.24,91.69 L470.87,92.15 L470.60,92.60 L470.43,93.02 L470.33,93.41 L470.29,93.80 L470.30,94.19 L470.34,94.58 L470.40,95.00 L470.52,95.45 L470.73,95.91 L470.96,96.39 L471.19,96.87 L471.35,97.34 L471.40,97.80 L471.33,98.24 L471.17,98.67 L470.96,99.10 L470.70,99.53 L470.44,99.96 L470.20,100.40 L469.94,100.85 L469.63,101.30 L469.32,101.76 L469.03,102.22 L468.81,102.70 L468.70,103.20 L468.69,103.72 L468.74,104.25 L468.87,104.79 L469.06,105.35 L469.30,105.92 L469.60,106.50 L469.98,107.09 L470.44,107.70 L470.96,108.32 L471.51,108.94 L472.06,109.57 L472.60,110.20 L473.14,110.83 L473.71,111.48 L474.29,112.13 L474.84,112.77 L475.36,113.39 L475.80,114.00 L476.20,114.57 L476.58,115.10 L476.91,115.62 L477.18,116.15 L477.35,116.70 L477.40,117.30 L477.30,117.94 L477.06,118.62 L476.73,119.32 L476.35,120.04 L475.96,120.77 L475.60,121.50 L475.26,122.23 L474.89,122.98 L474.51,123.73 L474.14,124.49 L473.80,125.25 L473.50,126.00 L473.24,126.77 L473.01,127.56 L472.80,128.34 L472.61,129.11 L472.45,129.84 L472.30,130.50 L472.17,131.08 L472.06,131.60 L471.98,132.07 L471.90,132.53 L471.85,132.99 L471.80,133.50 L471.77,134.08 L471.76,134.73 L471.77,135.39 L471.78,136.00 L471.79,136.53 L471.80,136.90 L478.20,136.90" fill="none" stroke="#404040" stroke-opacity="0.55" stroke-width="1.15" stroke-linejoin="round"/>
<line x1="478.2" y1="19.4" x2="478.2" y2="136.90" stroke="#8a8a8a" stroke-width="1.4"/>
<circle cx="164.50" cy="42.20" r="1.85" fill="#6e92fb"/>
<circle cx="168.40" cy="42.20" r="1.85" fill="#6e92fb"/>
<circle cx="162.80" cy="71.00" r="1.85" fill="#6e92fb"/>
<circle cx="164.80" cy="71.00" r="1.85" fill="#6e92fb"/>
<circle cx="166.50" cy="71.00" r="1.85" fill="#6e92fb"/>
<circle cx="167.50" cy="71.00" r="1.85" fill="#6e92fb"/>
<circle cx="163.00" cy="108.20" r="1.85" fill="#6e92fb"/>
<circle cx="165.50" cy="108.20" r="1.85" fill="#6e92fb"/>
<circle cx="168.00" cy="108.20" r="1.85" fill="#6e92fb"/>
<circle cx="170.00" cy="108.20" r="1.85" fill="#6e92fb"/>
<circle cx="179.70" cy="19.40" r="1.85" fill="#dc348a"/>
<circle cx="181.30" cy="60.80" r="1.85" fill="#dc348a"/>
<circle cx="184.10" cy="60.80" r="1.85" fill="#dc348a"/>
<circle cx="178.80" cy="102.50" r="1.85" fill="#dc348a"/>
<circle cx="181.00" cy="102.50" r="1.85" fill="#dc348a"/>
<circle cx="183.20" cy="102.50" r="1.85" fill="#dc348a"/>
<circle cx="184.50" cy="102.50" r="1.85" fill="#dc348a"/>
<circle cx="177.90" cy="143.90" r="1.85" fill="#dc348a"/>
<circle cx="181.70" cy="143.90" r="1.85" fill="#dc348a"/>
<circle cx="183.40" cy="143.90" r="1.85" fill="#dc348a"/>
<circle cx="199.30" cy="113.50" r="1.85" fill="#ebb02e"/>
<circle cx="193.80" cy="125.00" r="1.85" fill="#ebb02e"/>
<circle cx="195.60" cy="123.80" r="1.85" fill="#ebb02e"/>
<circle cx="196.80" cy="130.80" r="1.85" fill="#ebb02e"/>
<circle cx="198.60" cy="132.00" r="1.85" fill="#ebb02e"/>
<circle cx="192.60" cy="142.60" r="1.85" fill="#ebb02e"/>
<circle cx="199.10" cy="143.00" r="1.85" fill="#ebb02e"/>
<circle cx="193.30" cy="147.00" r="1.85" fill="#ebb02e"/>
<circle cx="195.00" cy="146.20" r="1.85" fill="#ebb02e"/>
<circle cx="196.80" cy="153.20" r="1.85" fill="#ebb02e"/>
<circle cx="196.10" cy="158.90" r="1.85" fill="#ebb02e"/>
<circle cx="199.50" cy="174.60" r="1.85" fill="#ebb02e"/>
<circle cx="198.60" cy="182.00" r="1.85" fill="#ebb02e"/>
<circle cx="196.10" cy="188.20" r="1.85" fill="#ebb02e"/>
<circle cx="195.60" cy="193.50" r="1.85" fill="#ebb02e"/>
<circle cx="195.90" cy="197.60" r="1.85" fill="#ebb02e"/>
<circle cx="348.80" cy="49.10" r="1.85" fill="#6e92fb"/>
<circle cx="350.20" cy="49.10" r="1.85" fill="#6e92fb"/>
<circle cx="349.50" cy="78.80" r="1.85" fill="#6e92fb"/>
<circle cx="351.50" cy="78.80" r="1.85" fill="#6e92fb"/>
<circle cx="354.50" cy="78.80" r="1.85" fill="#6e92fb"/>
<circle cx="349.50" cy="110.50" r="1.85" fill="#6e92fb"/>
<circle cx="352.00" cy="110.50" r="1.85" fill="#6e92fb"/>
<circle cx="365.30" cy="19.40" r="1.85" fill="#dc348a"/>
<circle cx="365.50" cy="79.50" r="1.85" fill="#dc348a"/>
<circle cx="366.90" cy="79.50" r="1.85" fill="#dc348a"/>
<circle cx="364.50" cy="140.00" r="1.85" fill="#dc348a"/>
<circle cx="366.50" cy="140.00" r="1.85" fill="#dc348a"/>
<circle cx="368.50" cy="140.00" r="1.85" fill="#dc348a"/>
<circle cx="369.50" cy="140.00" r="1.85" fill="#dc348a"/>
<circle cx="367.50" cy="200.60" r="1.85" fill="#dc348a"/>
<circle cx="369.50" cy="200.60" r="1.85" fill="#dc348a"/>
<circle cx="382.60" cy="134.70" r="1.85" fill="#ebb02e"/>
<circle cx="383.00" cy="154.60" r="1.85" fill="#ebb02e"/>
<circle cx="381.40" cy="163.40" r="1.85" fill="#ebb02e"/>
<circle cx="382.80" cy="170.50" r="1.85" fill="#ebb02e"/>
<circle cx="384.90" cy="174.00" r="1.85" fill="#ebb02e"/>
<circle cx="382.60" cy="181.60" r="1.85" fill="#ebb02e"/>
<circle cx="379.10" cy="186.50" r="1.85" fill="#ebb02e"/>
<circle cx="378.20" cy="187.70" r="1.85" fill="#ebb02e"/>
<circle cx="379.10" cy="197.60" r="1.85" fill="#ebb02e"/>
<circle cx="383.20" cy="197.60" r="1.85" fill="#ebb02e"/>
<circle cx="381.90" cy="223.00" r="1.85" fill="#ebb02e"/>
<circle cx="377.90" cy="237.90" r="1.85" fill="#ebb02e"/>
<circle cx="385.00" cy="244.70" r="1.85" fill="#ebb02e"/>
<circle cx="378.20" cy="252.10" r="1.85" fill="#ebb02e"/>
<circle cx="377.90" cy="257.20" r="1.85" fill="#ebb02e"/>
<circle cx="535.90" cy="39.90" r="1.85" fill="#6e92fb"/>
<circle cx="539.20" cy="39.90" r="1.85" fill="#6e92fb"/>
<circle cx="534.90" cy="60.80" r="1.85" fill="#6e92fb"/>
<circle cx="537.60" cy="60.80" r="1.85" fill="#6e92fb"/>
<circle cx="537.00" cy="81.50" r="1.85" fill="#6e92fb"/>
<circle cx="540.60" cy="81.50" r="1.85" fill="#6e92fb"/>
<circle cx="548.80" cy="19.40" r="1.85" fill="#dc348a"/>
<circle cx="551.80" cy="49.40" r="1.85" fill="#dc348a"/>
<circle cx="555.30" cy="49.40" r="1.85" fill="#dc348a"/>
<circle cx="551.50" cy="79.60" r="1.85" fill="#dc348a"/>
<circle cx="553.50" cy="79.60" r="1.85" fill="#dc348a"/>
<circle cx="555.00" cy="79.60" r="1.85" fill="#dc348a"/>
<circle cx="551.50" cy="109.60" r="1.85" fill="#dc348a"/>
<circle cx="553.80" cy="109.60" r="1.85" fill="#dc348a"/>
<circle cx="567.30" cy="83.50" r="1.85" fill="#ebb02e"/>
<circle cx="567.90" cy="91.50" r="1.85" fill="#ebb02e"/>
<circle cx="570.00" cy="92.30" r="1.85" fill="#ebb02e"/>
<circle cx="568.20" cy="95.00" r="1.85" fill="#ebb02e"/>
<circle cx="563.80" cy="101.50" r="1.85" fill="#ebb02e"/>
<circle cx="566.10" cy="103.80" r="1.85" fill="#ebb02e"/>
<circle cx="570.30" cy="106.50" r="1.85" fill="#ebb02e"/>
<circle cx="571.40" cy="108.60" r="1.85" fill="#ebb02e"/>
<circle cx="566.10" cy="111.40" r="1.85" fill="#ebb02e"/>
<circle cx="569.60" cy="123.20" r="1.85" fill="#ebb02e"/>
<circle cx="564.30" cy="127.30" r="1.85" fill="#ebb02e"/>
<circle cx="566.50" cy="131.10" r="1.85" fill="#ebb02e"/>
<circle cx="567.30" cy="133.80" r="1.85" fill="#ebb02e"/>
<circle cx="565.60" cy="136.80" r="1.85" fill="#ebb02e"/>
<line x1="69.70" y1="115.30" x2="209.00" y2="115.30" stroke="#000" stroke-width="1.9" stroke-dasharray="5.9,2.57"/>
<line x1="69.70" y1="104.90" x2="209.00" y2="104.90" stroke="#ff0000" stroke-width="1.9" stroke-dasharray="5.9,2.57"/>
<line x1="69.70" y1="99.60" x2="209.00" y2="99.60" stroke="#0000ff" stroke-width="2.5" stroke-dasharray="7.8,3.5"/>
<line x1="255.30" y1="158.70" x2="394.60" y2="158.70" stroke="#000" stroke-width="1.9" stroke-dasharray="5.9,2.57"/>
<line x1="255.30" y1="143.50" x2="394.60" y2="143.50" stroke="#ff0000" stroke-width="1.9" stroke-dasharray="5.9,2.57"/>
<line x1="255.30" y1="135.90" x2="394.60" y2="135.90" stroke="#0000ff" stroke-width="2.5" stroke-dasharray="7.8,3.5"/>
<line x1="440.90" y1="88.80" x2="580.20" y2="88.80" stroke="#000" stroke-width="1.9" stroke-dasharray="5.9,2.57"/>
<line x1="440.90" y1="81.60" x2="580.20" y2="81.60" stroke="#ff0000" stroke-width="1.9" stroke-dasharray="5.9,2.57"/>
<line x1="440.90" y1="77.90" x2="580.20" y2="77.90" stroke="#0000ff" stroke-width="2.5" stroke-dasharray="7.8,3.5"/>
<line x1="129.20" y1="42.40" x2="129.20" y2="71.00" stroke="#505050" stroke-width="2.2"/>
<line x1="127.30" y1="42.40" x2="131.10" y2="42.40" stroke="#505050" stroke-width="2.0" stroke-linecap="round"/>
<line x1="127.30" y1="108.50" x2="131.10" y2="108.50" stroke="#505050" stroke-width="2.0" stroke-linecap="round"/>
<rect x="125.40" y="71.00" width="7.60" height="37.50" fill="#6e92fb" stroke="#505050" stroke-width="1.8"/>
<line x1="125.40" y1="71.00" x2="133.00" y2="71.00" stroke="#111" stroke-width="2.0"/>
<line x1="142.00" y1="102.20" x2="145.80" y2="102.20" stroke="#505050" stroke-width="2.0" stroke-linecap="round"/>
<line x1="142.00" y1="102.20" x2="145.80" y2="102.20" stroke="#505050" stroke-width="2.0" stroke-linecap="round"/>
<rect x="140.10" y="101.40" width="7.60" height="0.80" fill="#dc348a" stroke="#505050" stroke-width="1.8"/>
<line x1="140.10" y1="102.20" x2="147.70" y2="102.20" stroke="#111" stroke-width="2.0"/>
<line x1="158.90" y1="113.30" x2="158.90" y2="131.40" stroke="#505050" stroke-width="2.2"/>
<line x1="157.00" y1="113.30" x2="160.80" y2="113.30" stroke="#505050" stroke-width="2.0" stroke-linecap="round"/>
<line x1="158.90" y1="176.50" x2="158.90" y2="197.50" stroke="#505050" stroke-width="2.2"/>
<line x1="157.00" y1="197.50" x2="160.80" y2="197.50" stroke="#505050" stroke-width="2.0" stroke-linecap="round"/>
<rect x="155.10" y="131.40" width="7.60" height="45.10" fill="#ebb02e" stroke="#505050" stroke-width="1.8"/>
<line x1="155.10" y1="146.90" x2="162.70" y2="146.90" stroke="#111" stroke-width="2.0"/>
<line x1="315.00" y1="48.60" x2="315.00" y2="78.80" stroke="#505050" stroke-width="2.2"/>
<line x1="313.10" y1="48.60" x2="316.90" y2="48.60" stroke="#505050" stroke-width="2.0" stroke-linecap="round"/>
<line x1="313.10" y1="110.60" x2="316.90" y2="110.60" stroke="#505050" stroke-width="2.0" stroke-linecap="round"/>
<rect x="311.20" y="78.80" width="7.60" height="31.80" fill="#6e92fb" stroke="#505050" stroke-width="1.8"/>
<line x1="311.20" y1="78.80" x2="318.80" y2="78.80" stroke="#111" stroke-width="2.0"/>
<line x1="327.60" y1="139.90" x2="331.40" y2="139.90" stroke="#505050" stroke-width="2.0" stroke-linecap="round"/>
<line x1="327.60" y1="139.90" x2="331.40" y2="139.90" stroke="#505050" stroke-width="2.0" stroke-linecap="round"/>
<rect x="325.70" y="139.20" width="7.60" height="0.70" fill="#dc348a" stroke="#505050" stroke-width="1.8"/>
<line x1="325.70" y1="139.90" x2="333.30" y2="139.90" stroke="#111" stroke-width="2.0"/>
<line x1="344.60" y1="135.00" x2="344.60" y2="168.60" stroke="#505050" stroke-width="2.2"/>
<line x1="342.70" y1="135.00" x2="346.50" y2="135.00" stroke="#505050" stroke-width="2.0" stroke-linecap="round"/>
<line x1="344.60" y1="226.60" x2="344.60" y2="257.50" stroke="#505050" stroke-width="2.2"/>
<line x1="342.70" y1="257.50" x2="346.50" y2="257.50" stroke="#505050" stroke-width="2.0" stroke-linecap="round"/>
<rect x="340.80" y="168.60" width="7.60" height="58.00" fill="#ebb02e" stroke="#505050" stroke-width="1.8"/>
<line x1="340.80" y1="187.00" x2="348.40" y2="187.00" stroke="#111" stroke-width="2.0"/>
<line x1="500.50" y1="39.80" x2="500.50" y2="60.30" stroke="#505050" stroke-width="2.2"/>
<line x1="498.60" y1="39.80" x2="502.40" y2="39.80" stroke="#505050" stroke-width="2.0" stroke-linecap="round"/>
<line x1="498.60" y1="81.50" x2="502.40" y2="81.50" stroke="#505050" stroke-width="2.0" stroke-linecap="round"/>
<rect x="496.70" y="60.30" width="7.60" height="21.20" fill="#6e92fb" stroke="#505050" stroke-width="1.8"/>
<line x1="496.70" y1="60.30" x2="504.30" y2="60.30" stroke="#111" stroke-width="2.0"/>
<line x1="513.20" y1="79.60" x2="517.00" y2="79.60" stroke="#505050" stroke-width="2.0" stroke-linecap="round"/>
<line x1="513.20" y1="79.60" x2="517.00" y2="79.60" stroke="#505050" stroke-width="2.0" stroke-linecap="round"/>
<rect x="511.30" y="78.80" width="7.60" height="0.80" fill="#dc348a" stroke="#505050" stroke-width="1.8"/>
<line x1="511.30" y1="79.60" x2="518.90" y2="79.60" stroke="#111" stroke-width="2.0"/>
<line x1="530.40" y1="83.30" x2="530.40" y2="95.50" stroke="#505050" stroke-width="2.2"/>
<line x1="528.50" y1="83.30" x2="532.30" y2="83.30" stroke="#505050" stroke-width="2.0" stroke-linecap="round"/>
<line x1="530.40" y1="124.20" x2="530.40" y2="136.90" stroke="#505050" stroke-width="2.2"/>
<line x1="528.50" y1="136.90" x2="532.30" y2="136.90" stroke="#505050" stroke-width="2.0" stroke-linecap="round"/>
<rect x="526.60" y="95.50" width="7.60" height="28.70" fill="#ebb02e" stroke="#505050" stroke-width="1.8"/>
<line x1="526.60" y1="104.70" x2="534.20" y2="104.70" stroke="#111" stroke-width="2.0"/>
<path d="M143.90,14.40 L147.00,19.40 L143.90,24.40 L140.80,19.40 Z" fill="#4d4d4d"/>
<path d="M143.90,55.90 L147.00,60.90 L143.90,65.90 L140.80,60.90 Z" fill="#4d4d4d"/>
<path d="M143.90,138.90 L147.00,143.90 L143.90,148.90 L140.80,143.90 Z" fill="#4d4d4d"/>
<path d="M329.50,14.40 L332.60,19.40 L329.50,24.40 L326.40,19.40 Z" fill="#4d4d4d"/>
<path d="M329.50,74.70 L332.60,79.70 L329.50,84.70 L326.40,79.70 Z" fill="#4d4d4d"/>
<path d="M329.50,195.60 L332.60,200.60 L329.50,205.60 L326.40,200.60 Z" fill="#4d4d4d"/>
<path d="M515.20,14.40 L518.30,19.40 L515.20,24.40 L512.10,19.40 Z" fill="#4d4d4d"/>
<path d="M515.20,44.40 L518.30,49.40 L515.20,54.40 L512.10,49.40 Z" fill="#4d4d4d"/>
<path d="M515.40,104.60 L518.50,109.60 L515.40,114.60 L512.30,109.60 Z" fill="#4d4d4d"/>
<path d="M123.50,73.70 L134.90,85.10 M123.50,85.10 L134.90,73.70" stroke="#000" stroke-width="1.15" fill="none"/>
<path d="M138.10,94.00 L149.50,105.40 M138.10,105.40 L149.50,94.00" stroke="#000" stroke-width="1.15" fill="none"/>
<path d="M153.10,147.60 L164.50,159.00 M153.10,159.00 L164.50,147.60" stroke="#000" stroke-width="1.15" fill="none"/>
<path d="M309.30,79.30 L320.70,90.70 M309.30,90.70 L320.70,79.30" stroke="#000" stroke-width="1.15" fill="none"/>
<path d="M323.80,130.50 L335.20,141.90 M323.80,141.90 L335.20,130.50" stroke="#000" stroke-width="1.15" fill="none"/>
<path d="M338.90,189.30 L350.30,200.70 M338.90,200.70 L350.30,189.30" stroke="#000" stroke-width="1.15" fill="none"/>
<path d="M494.80,58.70 L506.20,70.10 M494.80,70.10 L506.20,58.70" stroke="#000" stroke-width="1.15" fill="none"/>
<path d="M509.50,71.90 L520.90,83.30 M509.50,83.30 L520.90,71.90" stroke="#000" stroke-width="1.15" fill="none"/>
<path d="M524.80,103.30 L536.20,114.70 M524.80,114.70 L536.20,103.30" stroke="#000" stroke-width="1.15" fill="none"/>
</g>
<g clip-path="url(#cb)">
<path d="M619.50,42.30 L612.60,42.30 L612.72,42.70 L612.89,43.25 L613.09,43.90 L613.29,44.61 L613.47,45.32 L613.60,46.00 L613.69,46.63 L613.75,47.24 L613.79,47.86 L613.81,48.51 L613.81,49.21 L613.80,50.00 L613.77,50.89 L613.72,51.87 L613.65,52.90 L613.57,53.96 L613.49,55.00 L613.40,56.00 L613.31,56.97 L613.21,57.94 L613.11,58.90 L613.01,59.84 L612.90,60.74 L612.80,61.60 L612.71,62.41 L612.64,63.19 L612.57,63.93 L612.49,64.64 L612.37,65.33 L612.20,66.00 L611.98,66.64 L611.73,67.25 L611.45,67.83 L611.13,68.40 L610.78,68.95 L610.40,69.50 L609.96,70.04 L609.46,70.57 L608.92,71.09 L608.39,71.60 L607.87,72.10 L607.40,72.60 L606.97,73.10 L606.55,73.59 L606.16,74.07 L605.79,74.56 L605.47,75.03 L605.20,75.50 L604.98,75.95 L604.80,76.39 L604.66,76.83 L604.57,77.26 L604.51,77.72 L604.50,78.20 L604.53,78.71 L604.60,79.23 L604.72,79.77 L604.87,80.33 L605.07,80.90 L605.30,81.50 L605.58,82.12 L605.90,82.76 L606.26,83.42 L606.66,84.10 L607.07,84.80 L607.50,85.50 L607.96,86.22 L608.47,86.94 L608.99,87.69 L609.52,88.44 L610.03,89.22 L610.50,90.00 L610.93,90.79 L611.35,91.59 L611.74,92.41 L612.12,93.24 L612.47,94.10 L612.80,95.00 L613.11,95.93 L613.39,96.88 L613.65,97.86 L613.89,98.87 L614.11,99.92 L614.30,101.00 L614.47,102.15 L614.60,103.36 L614.72,104.61 L614.82,105.86 L614.91,107.07 L615.00,108.20 L615.10,109.25 L615.20,110.25 L615.29,111.21 L615.37,112.14 L615.41,113.07 L615.40,114.00 L615.34,114.94 L615.23,115.88 L615.08,116.81 L614.92,117.73 L614.75,118.63 L614.60,119.50 L614.43,120.33 L614.24,121.12 L614.04,121.89 L613.87,122.66 L613.75,123.46 L613.70,124.30 L613.73,125.21 L613.80,126.18 L613.93,127.17 L614.11,128.16 L614.33,129.11 L614.60,130.00 L614.95,130.83 L615.38,131.63 L615.86,132.40 L616.34,133.13 L616.80,133.83 L617.20,134.50 L617.55,135.11 L617.89,135.67 L618.20,136.20 L618.47,136.71 L618.67,137.24 L618.80,137.80 L618.84,138.39 L618.79,138.99 L618.68,139.61 L618.53,140.23 L618.37,140.86 L618.20,141.50 L618.02,142.13 L617.79,142.75 L617.55,143.38 L617.31,144.04 L617.08,144.74 L616.90,145.50 L616.75,146.41 L616.63,147.46 L616.52,148.55 L616.43,149.59 L616.36,150.47 L616.30,151.10 L619.50,151.10 Z" fill="#e2905e" fill-opacity="1.0"/>
<path d="M619.50,42.30 L612.60,42.30 L612.72,42.70 L612.89,43.25 L613.09,43.90 L613.29,44.61 L613.47,45.32 L613.60,46.00 L613.69,46.63 L613.75,47.24 L613.79,47.86 L613.81,48.51 L613.81,49.21 L613.80,50.00 L613.77,50.89 L613.72,51.87 L613.65,52.90 L613.57,53.96 L613.49,55.00 L613.40,56.00 L613.31,56.97 L613.21,57.94 L613.11,58.90 L613.01,59.84 L612.90,60.74 L612.80,61.60 L612.71,62.41 L612.64,63.19 L612.57,63.93 L612.49,64.64 L612.37,65.33 L612.20,66.00 L611.98,66.64 L611.73,67.25 L611.45,67.83 L611.13,68.40 L610.78,68.95 L610.40,69.50 L609.96,70.04 L609.46,70.57 L608.92,71.09 L608.39,71.60 L607.87,72.10 L607.40,72.60 L606.97,73.10 L606.55,73.59 L606.16,74.07 L605.79,74.56 L605.47,75.03 L605.20,75.50 L604.98,75.95 L604.80,76.39 L604.66,76.83 L604.57,77.26 L604.51,77.72 L604.50,78.20 L604.53,78.71 L604.60,79.23 L604.72,79.77 L604.87,80.33 L605.07,80.90 L605.30,81.50 L605.58,82.12 L605.90,82.76 L606.26,83.42 L606.66,84.10 L607.07,84.80 L607.50,85.50 L607.96,86.22 L608.47,86.94 L608.99,87.69 L609.52,88.44 L610.03,89.22 L610.50,90.00 L610.93,90.79 L611.35,91.59 L611.74,92.41 L612.12,93.24 L612.47,94.10 L612.80,95.00 L613.11,95.93 L613.39,96.88 L613.65,97.86 L613.89,98.87 L614.11,99.92 L614.30,101.00 L614.47,102.15 L614.60,103.36 L614.72,104.61 L614.82,105.86 L614.91,107.07 L615.00,108.20 L615.10,109.25 L615.20,110.25 L615.29,111.21 L615.37,112.14 L615.41,113.07 L615.40,114.00 L615.34,114.94 L615.23,115.88 L615.08,116.81 L614.92,117.73 L614.75,118.63 L614.60,119.50 L614.43,120.33 L614.24,121.12 L614.04,121.89 L613.87,122.66 L613.75,123.46 L613.70,124.30 L613.73,125.21 L613.80,126.18 L613.93,127.17 L614.11,128.16 L614.33,129.11 L614.60,130.00 L614.95,130.83 L615.38,131.63 L615.86,132.40 L616.34,133.13 L616.80,133.83 L617.20,134.50 L617.55,135.11 L617.89,135.67 L618.20,136.20 L618.47,136.71 L618.67,137.24 L618.80,137.80 L618.84,138.39 L618.79,138.99 L618.68,139.61 L618.53,140.23 L618.37,140.86 L618.20,141.50 L618.02,142.13 L617.79,142.75 L617.55,143.38 L617.31,144.04 L617.08,144.74 L616.90,145.50 L616.75,146.41 L616.63,147.46 L616.52,148.55 L616.43,149.59 L616.36,150.47 L616.30,151.10 L619.50,151.10" fill="none" stroke="#404040" stroke-opacity="0.55" stroke-width="1.15" stroke-linejoin="round"/>
<line x1="619.5" y1="42.3" x2="619.5" y2="151.1" stroke="#8a8a8a" stroke-width="1.4"/>
<circle cx="657.00" cy="42.70" r="1.95" fill="#f96218"/>
<circle cx="661.00" cy="41.90" r="1.95" fill="#f96218"/>
<circle cx="668.40" cy="56.90" r="1.95" fill="#f96218"/>
<circle cx="663.40" cy="60.90" r="1.95" fill="#f96218"/>
<circle cx="650.40" cy="70.90" r="1.95" fill="#f96218"/>
<circle cx="659.70" cy="77.00" r="1.95" fill="#f96218"/>
<circle cx="662.40" cy="78.30" r="1.95" fill="#f96218"/>
<circle cx="664.40" cy="81.40" r="1.95" fill="#f96218"/>
<circle cx="651.70" cy="79.60" r="1.95" fill="#f96218"/>
<circle cx="667.60" cy="87.90" r="1.95" fill="#f96218"/>
<circle cx="653.70" cy="91.90" r="1.95" fill="#f96218"/>
<circle cx="664.30" cy="101.60" r="1.95" fill="#f96218"/>
<circle cx="649.00" cy="110.20" r="1.95" fill="#f96218"/>
<circle cx="657.00" cy="123.20" r="1.95" fill="#f96218"/>
<circle cx="665.00" cy="128.30" r="1.95" fill="#f96218"/>
<circle cx="654.70" cy="151.10" r="1.95" fill="#f96218"/>
<line x1="639.20" y1="41.90" x2="639.20" y2="68.20" stroke="#505050" stroke-width="2.2"/>
<line x1="637.30" y1="41.90" x2="641.10" y2="41.90" stroke="#505050" stroke-width="2.0" stroke-linecap="round"/>
<line x1="639.20" y1="103.60" x2="639.20" y2="150.90" stroke="#505050" stroke-width="2.2"/>
<line x1="637.30" y1="150.90" x2="641.10" y2="150.90" stroke="#505050" stroke-width="2.0" stroke-linecap="round"/>
<rect x="635.40" y="68.20" width="7.60" height="35.40" fill="#f96218" stroke="#505050" stroke-width="1.8"/>
<line x1="635.40" y1="80.70" x2="643.00" y2="80.70" stroke="#111" stroke-width="2.0"/>
<path d="M633.50,80.70 L644.90,92.10 M633.50,92.10 L644.90,80.70" stroke="#000" stroke-width="1.15" fill="none"/>
</g>
<g stroke="#222222" stroke-width="1" fill="none">
<path d="M51.3,19.45 H589.45 M51.3,268.45 H589.45 M51.3,18.95 V268.95" stroke-width="1.05"/>
<rect x="589.5" y="19.5" width="90" height="249"/>
<line x1="47.2" y1="19.40" x2="51.3" y2="19.40"/>
<line x1="585.4" y1="19.40" x2="589.5" y2="19.40"/>
<line x1="47.2" y1="60.90" x2="51.3" y2="60.90"/>
<line x1="585.4" y1="60.90" x2="589.5" y2="60.90"/>
<line x1="47.2" y1="102.40" x2="51.3" y2="102.40"/>
<line x1="585.4" y1="102.40" x2="589.5" y2="102.40"/>
<line x1="47.2" y1="143.90" x2="51.3" y2="143.90"/>
<line x1="585.4" y1="143.90" x2="589.5" y2="143.90"/>
<line x1="47.2" y1="185.40" x2="51.3" y2="185.40"/>
<line x1="585.4" y1="185.40" x2="589.5" y2="185.40"/>
<line x1="47.2" y1="226.90" x2="51.3" y2="226.90"/>
<line x1="585.4" y1="226.90" x2="589.5" y2="226.90"/>
<line x1="47.2" y1="268.40" x2="51.3" y2="268.40"/>
<line x1="585.4" y1="268.40" x2="589.5" y2="268.40"/>
<line x1="143.9" y1="268.5" x2="143.9" y2="272.6"/>
<line x1="329.5" y1="268.5" x2="329.5" y2="272.6"/>
<line x1="515.1" y1="268.5" x2="515.1" y2="272.6"/>
<line x1="639.0" y1="268.5" x2="639.0" y2="272.6"/>
</g>
<g font-size="12.36"><text x="24.62" y="23.85" textLength="7.42" lengthAdjust="spacingAndGlyphs">1</text><text x="32.04" y="23.85" textLength="3.71" lengthAdjust="spacingAndGlyphs">.</text><text x="35.75" y="23.85" textLength="7.42" lengthAdjust="spacingAndGlyphs">0</text></g>
<g font-size="11.94"><text x="25.26" y="65.35" textLength="7.17" lengthAdjust="spacingAndGlyphs">0</text><text x="32.42" y="65.35" textLength="3.58" lengthAdjust="spacingAndGlyphs">.</text><text x="36.00" y="65.35" textLength="7.17" lengthAdjust="spacingAndGlyphs">8</text></g>
<g font-size="11.89"><text x="25.26" y="106.85" textLength="7.14" lengthAdjust="spacingAndGlyphs">0</text><text x="32.40" y="106.85" textLength="3.57" lengthAdjust="spacingAndGlyphs">.</text><text x="35.97" y="106.85" textLength="7.14" lengthAdjust="spacingAndGlyphs">6</text></g>
<g font-size="11.84"><text x="25.26" y="148.35" textLength="7.11" lengthAdjust="spacingAndGlyphs">0</text><text x="32.37" y="148.35" textLength="3.55" lengthAdjust="spacingAndGlyphs">.</text><text x="35.92" y="148.35" textLength="7.11" lengthAdjust="spacingAndGlyphs">4</text></g>
<g font-size="12.20"><text x="25.24" y="189.85" textLength="7.33" lengthAdjust="spacingAndGlyphs">0</text><text x="32.57" y="189.85" textLength="3.66" lengthAdjust="spacingAndGlyphs">.</text><text x="36.23" y="189.85" textLength="7.33" lengthAdjust="spacingAndGlyphs">2</text></g>
<g font-size="11.92"><text x="25.26" y="231.35" textLength="7.16" lengthAdjust="spacingAndGlyphs">0</text><text x="32.41" y="231.35" textLength="3.58" lengthAdjust="spacingAndGlyphs">.</text><text x="35.99" y="231.35" textLength="7.16" lengthAdjust="spacingAndGlyphs">0</text></g>
<g font-size="12.11"><text x="15.79" y="272.85" textLength="9.58" lengthAdjust="spacingAndGlyphs">−</text><text x="25.37" y="272.85" textLength="7.27" lengthAdjust="spacingAndGlyphs">0</text><text x="32.64" y="272.85" textLength="3.63" lengthAdjust="spacingAndGlyphs">.</text><text x="36.27" y="272.85" textLength="7.27" lengthAdjust="spacingAndGlyphs">2</text></g>
<g font-size="12.66"><text x="136.63" y="284.90" textLength="6.87" lengthAdjust="spacingAndGlyphs">F</text><text x="143.50" y="284.90" textLength="7.60" lengthAdjust="spacingAndGlyphs">1</text></g>
<g font-size="12.22"><text x="316.37" y="284.90" textLength="9.95" lengthAdjust="spacingAndGlyphs">M</text><text x="326.32" y="284.90" textLength="8.05" lengthAdjust="spacingAndGlyphs">C</text><text x="334.37" y="284.90" textLength="8.05" lengthAdjust="spacingAndGlyphs">C</text></g>
<g font-size="12.00"><text x="490.89" y="284.90" textLength="7.87" lengthAdjust="spacingAndGlyphs">R</text><text x="498.76" y="284.90" textLength="8.91" lengthAdjust="spacingAndGlyphs">O</text><text x="507.67" y="284.90" textLength="7.91" lengthAdjust="spacingAndGlyphs">C</text><text x="515.58" y="284.90" textLength="7.75" lengthAdjust="spacingAndGlyphs">A</text><text x="523.32" y="284.90" textLength="8.29" lengthAdjust="spacingAndGlyphs">U</text><text x="531.61" y="284.90" textLength="7.91" lengthAdjust="spacingAndGlyphs">C</text></g>
<g font-size="12.16"><text x="627.68" y="284.90" textLength="6.92" lengthAdjust="spacingAndGlyphs">P</text><text x="634.60" y="284.90" textLength="8.01" lengthAdjust="spacingAndGlyphs">C</text><text x="642.61" y="284.90" textLength="8.01" lengthAdjust="spacingAndGlyphs">C</text></g>
<g font-size="11.98"><text x="260.57" y="300.80" textLength="7.90" lengthAdjust="spacingAndGlyphs">C</text><text x="268.46" y="300.80" textLength="3.14" lengthAdjust="spacingAndGlyphs">l</text><text x="271.61" y="300.80" textLength="6.93" lengthAdjust="spacingAndGlyphs">a</text><text x="278.54" y="300.80" textLength="5.89" lengthAdjust="spacingAndGlyphs">s</text><text x="284.43" y="300.80" textLength="5.89" lengthAdjust="spacingAndGlyphs">s</text><text x="290.32" y="300.80" textLength="3.14" lengthAdjust="spacingAndGlyphs">i</text><text x="293.46" y="300.80" textLength="3.98" lengthAdjust="spacingAndGlyphs">f</text><text x="297.44" y="300.80" textLength="3.14" lengthAdjust="spacingAndGlyphs">i</text><text x="300.59" y="300.80" textLength="6.22" lengthAdjust="spacingAndGlyphs">c</text><text x="306.81" y="300.80" textLength="6.93" lengthAdjust="spacingAndGlyphs">a</text><text x="313.74" y="300.80" textLength="4.43" lengthAdjust="spacingAndGlyphs">t</text><text x="318.17" y="300.80" textLength="3.14" lengthAdjust="spacingAndGlyphs">i</text><text x="321.31" y="300.80" textLength="6.92" lengthAdjust="spacingAndGlyphs">o</text><text x="328.23" y="300.80" textLength="7.17" lengthAdjust="spacingAndGlyphs">n</text><text x="339.00" y="300.80" textLength="9.76" lengthAdjust="spacingAndGlyphs">M</text><text x="348.75" y="300.80" textLength="6.96" lengthAdjust="spacingAndGlyphs">e</text><text x="355.71" y="300.80" textLength="4.43" lengthAdjust="spacingAndGlyphs">t</text><text x="360.15" y="300.80" textLength="4.65" lengthAdjust="spacingAndGlyphs">r</text><text x="364.80" y="300.80" textLength="3.14" lengthAdjust="spacingAndGlyphs">i</text><text x="367.94" y="300.80" textLength="6.22" lengthAdjust="spacingAndGlyphs">c</text><text x="374.16" y="300.80" textLength="5.89" lengthAdjust="spacingAndGlyphs">s</text></g>
<g font-size="11.92"><text x="584.30" y="300.80" textLength="7.82" lengthAdjust="spacingAndGlyphs">R</text><text x="592.11" y="300.80" textLength="6.92" lengthAdjust="spacingAndGlyphs">e</text><text x="598.53" y="300.80" textLength="7.14" lengthAdjust="spacingAndGlyphs">g</text><text x="605.67" y="300.80" textLength="4.63" lengthAdjust="spacingAndGlyphs">r</text><text x="610.30" y="300.80" textLength="6.92" lengthAdjust="spacingAndGlyphs">e</text><text x="616.97" y="300.80" textLength="5.86" lengthAdjust="spacingAndGlyphs">s</text><text x="622.84" y="300.80" textLength="5.86" lengthAdjust="spacingAndGlyphs">s</text><text x="628.70" y="300.80" textLength="3.13" lengthAdjust="spacingAndGlyphs">i</text><text x="631.82" y="300.80" textLength="6.88" lengthAdjust="spacingAndGlyphs">o</text><text x="638.71" y="300.80" textLength="7.13" lengthAdjust="spacingAndGlyphs">n</text><text x="649.41" y="300.80" textLength="9.71" lengthAdjust="spacingAndGlyphs">M</text><text x="659.12" y="300.80" textLength="6.92" lengthAdjust="spacingAndGlyphs">e</text><text x="666.04" y="300.80" textLength="4.41" lengthAdjust="spacingAndGlyphs">t</text><text x="670.45" y="300.80" textLength="4.63" lengthAdjust="spacingAndGlyphs">r</text><text x="675.08" y="300.80" textLength="3.13" lengthAdjust="spacingAndGlyphs">i</text><text x="678.21" y="300.80" textLength="6.19" lengthAdjust="spacingAndGlyphs">c</text></g>
<g font-size="11.90" transform="translate(9.3,0) rotate(-90)"><text x="-189.60" y="0.00" textLength="6.77" lengthAdjust="spacingAndGlyphs">P</text><text x="-182.83" y="0.00" textLength="4.62" lengthAdjust="spacingAndGlyphs">r</text><text x="-178.41" y="0.00" textLength="6.91" lengthAdjust="spacingAndGlyphs">e</text><text x="-171.75" y="0.00" textLength="7.13" lengthAdjust="spacingAndGlyphs">d</text><text x="-164.62" y="0.00" textLength="3.12" lengthAdjust="spacingAndGlyphs">i</text><text x="-161.50" y="0.00" textLength="6.17" lengthAdjust="spacingAndGlyphs">c</text><text x="-155.33" y="0.00" textLength="4.40" lengthAdjust="spacingAndGlyphs">t</text><text x="-150.92" y="0.00" textLength="3.12" lengthAdjust="spacingAndGlyphs">i</text><text x="-147.80" y="0.00" textLength="6.87" lengthAdjust="spacingAndGlyphs">o</text><text x="-140.94" y="0.00" textLength="7.12" lengthAdjust="spacingAndGlyphs">n</text><text x="-130.25" y="0.00" textLength="7.13" lengthAdjust="spacingAndGlyphs">S</text><text x="-123.12" y="0.00" textLength="6.17" lengthAdjust="spacingAndGlyphs">c</text><text x="-116.95" y="0.00" textLength="6.87" lengthAdjust="spacingAndGlyphs">o</text><text x="-110.08" y="0.00" textLength="4.62" lengthAdjust="spacingAndGlyphs">r</text><text x="-105.46" y="0.00" textLength="6.91" lengthAdjust="spacingAndGlyphs">e</text></g>
<g font-size="16.82"><text x="267.71" y="12.90" textLength="11.08" lengthAdjust="spacingAndGlyphs">C</text><text x="278.80" y="12.90" textLength="4.41" lengthAdjust="spacingAndGlyphs">l</text><text x="283.21" y="12.90" textLength="9.73" lengthAdjust="spacingAndGlyphs">a</text><text x="292.93" y="12.90" textLength="8.27" lengthAdjust="spacingAndGlyphs">s</text><text x="301.20" y="12.90" textLength="8.27" lengthAdjust="spacingAndGlyphs">s</text><text x="309.47" y="12.90" textLength="4.41" lengthAdjust="spacingAndGlyphs">i</text><text x="313.88" y="12.90" textLength="5.59" lengthAdjust="spacingAndGlyphs">f</text><text x="319.47" y="12.90" textLength="4.41" lengthAdjust="spacingAndGlyphs">i</text><text x="323.88" y="12.90" textLength="8.73" lengthAdjust="spacingAndGlyphs">c</text><text x="332.61" y="12.90" textLength="9.73" lengthAdjust="spacingAndGlyphs">a</text><text x="342.34" y="12.90" textLength="6.22" lengthAdjust="spacingAndGlyphs">t</text><text x="348.56" y="12.90" textLength="4.41" lengthAdjust="spacingAndGlyphs">i</text><text x="352.97" y="12.90" textLength="9.71" lengthAdjust="spacingAndGlyphs">o</text><text x="362.68" y="12.90" textLength="10.06" lengthAdjust="spacingAndGlyphs">n</text></g>
<g font-size="16.79"><text x="591.45" y="12.90" textLength="11.01" lengthAdjust="spacingAndGlyphs">R</text><text x="602.46" y="12.90" textLength="9.75" lengthAdjust="spacingAndGlyphs">e</text><text x="611.50" y="12.90" textLength="10.06" lengthAdjust="spacingAndGlyphs">g</text><text x="621.56" y="12.90" textLength="6.52" lengthAdjust="spacingAndGlyphs">r</text><text x="628.08" y="12.90" textLength="9.75" lengthAdjust="spacingAndGlyphs">e</text><text x="637.48" y="12.90" textLength="8.26" lengthAdjust="spacingAndGlyphs">s</text><text x="645.74" y="12.90" textLength="8.26" lengthAdjust="spacingAndGlyphs">s</text><text x="654.00" y="12.90" textLength="4.40" lengthAdjust="spacingAndGlyphs">i</text><text x="658.40" y="12.90" textLength="9.70" lengthAdjust="spacingAndGlyphs">o</text><text x="668.10" y="12.90" textLength="10.05" lengthAdjust="spacingAndGlyphs">n</text></g>
<rect x="74" y="312" width="23.7" height="8.4" fill="#6e92fb"/>
<rect x="74" y="328.4" width="23.7" height="8.4" fill="#dc348a"/>
<rect x="281.2" y="312" width="23.7" height="8.4" fill="#ebb02e"/>
<rect x="281.2" y="328.4" width="23.7" height="8.4" fill="#ef9a68"/>
<line x1="419.7" y1="316.2" x2="442.8" y2="316.2" stroke="#000" stroke-width="2" stroke-dasharray="6.1,2.55"/>
<line x1="419.7" y1="332.6" x2="442.8" y2="332.6" stroke="#ff0000" stroke-width="2" stroke-dasharray="6.1,2.55"/>
<line x1="547.9" y1="316.2" x2="571.0" y2="316.2" stroke="#0000ff" stroke-width="2" stroke-dasharray="6.1,2.55"/>
<g font-size="11.94"><text x="105.97" y="320.20" textLength="7.87" lengthAdjust="spacingAndGlyphs">C</text><text x="113.84" y="320.20" textLength="8.43" lengthAdjust="spacingAndGlyphs">N</text><text x="122.27" y="320.20" textLength="8.43" lengthAdjust="spacingAndGlyphs">N</text><text x="134.28" y="320.20" textLength="4.40" lengthAdjust="spacingAndGlyphs">(</text><text x="138.68" y="320.20" textLength="6.20" lengthAdjust="spacingAndGlyphs">c</text><text x="144.87" y="320.20" textLength="3.13" lengthAdjust="spacingAndGlyphs">l</text><text x="148.00" y="320.20" textLength="6.91" lengthAdjust="spacingAndGlyphs">a</text><text x="154.91" y="320.20" textLength="5.87" lengthAdjust="spacingAndGlyphs">s</text><text x="160.78" y="320.20" textLength="5.87" lengthAdjust="spacingAndGlyphs">s</text><text x="166.65" y="320.20" textLength="3.13" lengthAdjust="spacingAndGlyphs">i</text><text x="169.78" y="320.20" textLength="3.97" lengthAdjust="spacingAndGlyphs">f</text><text x="173.75" y="320.20" textLength="3.13" lengthAdjust="spacingAndGlyphs">i</text><text x="176.88" y="320.20" textLength="6.20" lengthAdjust="spacingAndGlyphs">c</text><text x="183.08" y="320.20" textLength="6.91" lengthAdjust="spacingAndGlyphs">a</text><text x="189.98" y="320.20" textLength="4.42" lengthAdjust="spacingAndGlyphs">t</text><text x="194.40" y="320.20" textLength="3.13" lengthAdjust="spacingAndGlyphs">i</text><text x="197.53" y="320.20" textLength="6.89" lengthAdjust="spacingAndGlyphs">o</text><text x="204.43" y="320.20" textLength="7.14" lengthAdjust="spacingAndGlyphs">n</text><text x="211.57" y="320.20" textLength="4.40" lengthAdjust="spacingAndGlyphs">)</text></g>
<g font-size="11.92"><text x="105.97" y="336.60" textLength="8.86" lengthAdjust="spacingAndGlyphs">O</text><text x="114.83" y="336.60" textLength="11.12" lengthAdjust="spacingAndGlyphs">W</text><text x="125.95" y="336.60" textLength="7.14" lengthAdjust="spacingAndGlyphs">S</text><text x="133.09" y="336.60" textLength="7.13" lengthAdjust="spacingAndGlyphs">u</text><text x="140.22" y="336.60" textLength="10.96" lengthAdjust="spacingAndGlyphs">m</text><text x="154.76" y="336.60" textLength="4.39" lengthAdjust="spacingAndGlyphs">(</text><text x="159.14" y="336.60" textLength="7.86" lengthAdjust="spacingAndGlyphs">C</text><text x="167.00" y="336.60" textLength="6.78" lengthAdjust="spacingAndGlyphs">P</text><text x="173.78" y="336.60" textLength="7.16" lengthAdjust="spacingAndGlyphs">2</text><text x="180.94" y="336.60" textLength="3.58" lengthAdjust="spacingAndGlyphs">,</text><text x="188.09" y="336.60" textLength="4.41" lengthAdjust="spacingAndGlyphs">t</text><text x="192.50" y="336.60" textLength="3.96" lengthAdjust="spacingAndGlyphs">f</text><text x="196.47" y="336.60" textLength="4.06" lengthAdjust="spacingAndGlyphs">-</text><text x="199.91" y="336.60" textLength="3.13" lengthAdjust="spacingAndGlyphs">i</text><text x="203.04" y="336.60" textLength="7.14" lengthAdjust="spacingAndGlyphs">d</text><text x="210.18" y="336.60" textLength="3.96" lengthAdjust="spacingAndGlyphs">f</text><text x="214.14" y="336.60" textLength="4.06" lengthAdjust="spacingAndGlyphs">-</text><text x="217.58" y="336.60" textLength="9.20" lengthAdjust="spacingAndGlyphs">w</text><text x="226.78" y="336.60" textLength="6.92" lengthAdjust="spacingAndGlyphs">e</text><text x="233.70" y="336.60" textLength="3.13" lengthAdjust="spacingAndGlyphs">i</text><text x="236.83" y="336.60" textLength="7.14" lengthAdjust="spacingAndGlyphs">g</text><text x="243.97" y="336.60" textLength="7.13" lengthAdjust="spacingAndGlyphs">h</text><text x="251.10" y="336.60" textLength="4.41" lengthAdjust="spacingAndGlyphs">t</text><text x="255.51" y="336.60" textLength="6.92" lengthAdjust="spacingAndGlyphs">e</text><text x="262.43" y="336.60" textLength="7.14" lengthAdjust="spacingAndGlyphs">d</text><text x="269.57" y="336.60" textLength="4.39" lengthAdjust="spacingAndGlyphs">)</text></g>
<g font-size="11.98"><text x="313.25" y="320.20" textLength="7.18" lengthAdjust="spacingAndGlyphs">S</text><text x="320.43" y="320.20" textLength="7.17" lengthAdjust="spacingAndGlyphs">u</text><text x="327.59" y="320.20" textLength="7.18" lengthAdjust="spacingAndGlyphs">b</text><text x="334.77" y="320.20" textLength="3.14" lengthAdjust="spacingAndGlyphs">j</text><text x="337.91" y="320.20" textLength="6.96" lengthAdjust="spacingAndGlyphs">e</text><text x="344.87" y="320.20" textLength="6.22" lengthAdjust="spacingAndGlyphs">c</text><text x="351.08" y="320.20" textLength="4.43" lengthAdjust="spacingAndGlyphs">t</text><text x="359.11" y="320.20" textLength="7.74" lengthAdjust="spacingAndGlyphs">X</text></g>
<g font-size="11.94"><text x="313.37" y="336.60" textLength="7.87" lengthAdjust="spacingAndGlyphs">C</text><text x="321.24" y="336.60" textLength="8.43" lengthAdjust="spacingAndGlyphs">N</text><text x="329.67" y="336.60" textLength="8.43" lengthAdjust="spacingAndGlyphs">N</text><text x="341.68" y="336.60" textLength="4.40" lengthAdjust="spacingAndGlyphs">(</text><text x="346.08" y="336.60" textLength="4.63" lengthAdjust="spacingAndGlyphs">r</text><text x="350.71" y="336.60" textLength="6.93" lengthAdjust="spacingAndGlyphs">e</text><text x="357.40" y="336.60" textLength="7.15" lengthAdjust="spacingAndGlyphs">g</text><text x="364.55" y="336.60" textLength="4.63" lengthAdjust="spacingAndGlyphs">r</text><text x="369.18" y="336.60" textLength="6.93" lengthAdjust="spacingAndGlyphs">e</text><text x="375.87" y="336.60" textLength="5.87" lengthAdjust="spacingAndGlyphs">s</text><text x="381.74" y="336.60" textLength="5.87" lengthAdjust="spacingAndGlyphs">s</text><text x="387.61" y="336.60" textLength="3.13" lengthAdjust="spacingAndGlyphs">i</text><text x="390.74" y="336.60" textLength="6.89" lengthAdjust="spacingAndGlyphs">o</text><text x="397.64" y="336.60" textLength="7.14" lengthAdjust="spacingAndGlyphs">n</text><text x="404.78" y="336.60" textLength="4.40" lengthAdjust="spacingAndGlyphs">)</text></g>
<g font-size="11.81"><text x="452.03" y="320.20" textLength="6.81" lengthAdjust="spacingAndGlyphs">T</text><text x="458.84" y="320.20" textLength="6.82" lengthAdjust="spacingAndGlyphs">o</text><text x="463.76" y="320.20" textLength="7.07" lengthAdjust="spacingAndGlyphs">p</text><text x="470.83" y="320.20" textLength="4.02" lengthAdjust="spacingAndGlyphs">-</text><text x="474.85" y="320.20" textLength="7.09" lengthAdjust="spacingAndGlyphs">5</text><text x="485.48" y="320.20" textLength="7.07" lengthAdjust="spacingAndGlyphs">g</text><text x="492.56" y="320.20" textLength="7.06" lengthAdjust="spacingAndGlyphs">u</text><text x="499.62" y="320.20" textLength="6.85" lengthAdjust="spacingAndGlyphs">e</text><text x="506.47" y="320.20" textLength="5.80" lengthAdjust="spacingAndGlyphs">s</text><text x="512.28" y="320.20" textLength="5.80" lengthAdjust="spacingAndGlyphs">s</text><text x="518.08" y="320.20" textLength="3.10" lengthAdjust="spacingAndGlyphs">i</text><text x="521.18" y="320.20" textLength="7.06" lengthAdjust="spacingAndGlyphs">n</text><text x="528.24" y="320.20" textLength="7.07" lengthAdjust="spacingAndGlyphs">g</text></g>
<g font-size="12.44"><text x="451.22" y="336.60" textLength="7.45" lengthAdjust="spacingAndGlyphs">S</text><text x="458.68" y="336.60" textLength="8.03" lengthAdjust="spacingAndGlyphs">V</text><text x="466.71" y="336.60" textLength="10.13" lengthAdjust="spacingAndGlyphs">M</text></g>
<g font-size="11.88"><text x="579.70" y="320.20" textLength="7.79" lengthAdjust="spacingAndGlyphs">R</text><text x="587.49" y="320.20" textLength="6.87" lengthAdjust="spacingAndGlyphs">a</text><text x="594.11" y="320.20" textLength="7.10" lengthAdjust="spacingAndGlyphs">n</text><text x="601.22" y="320.20" textLength="7.11" lengthAdjust="spacingAndGlyphs">d</text><text x="608.33" y="320.20" textLength="6.86" lengthAdjust="spacingAndGlyphs">o</text><text x="615.19" y="320.20" textLength="10.92" lengthAdjust="spacingAndGlyphs">m</text><text x="629.67" y="320.20" textLength="6.45" lengthAdjust="spacingAndGlyphs">F</text><text x="636.12" y="320.20" textLength="6.86" lengthAdjust="spacingAndGlyphs">o</text><text x="642.58" y="320.20" textLength="4.61" lengthAdjust="spacingAndGlyphs">r</text><text x="647.18" y="320.20" textLength="6.90" lengthAdjust="spacingAndGlyphs">e</text><text x="653.83" y="320.20" textLength="5.84" lengthAdjust="spacingAndGlyphs">s</text><text x="659.67" y="320.20" textLength="4.39" lengthAdjust="spacingAndGlyphs">t</text></g>
</svg>
</body></html>
